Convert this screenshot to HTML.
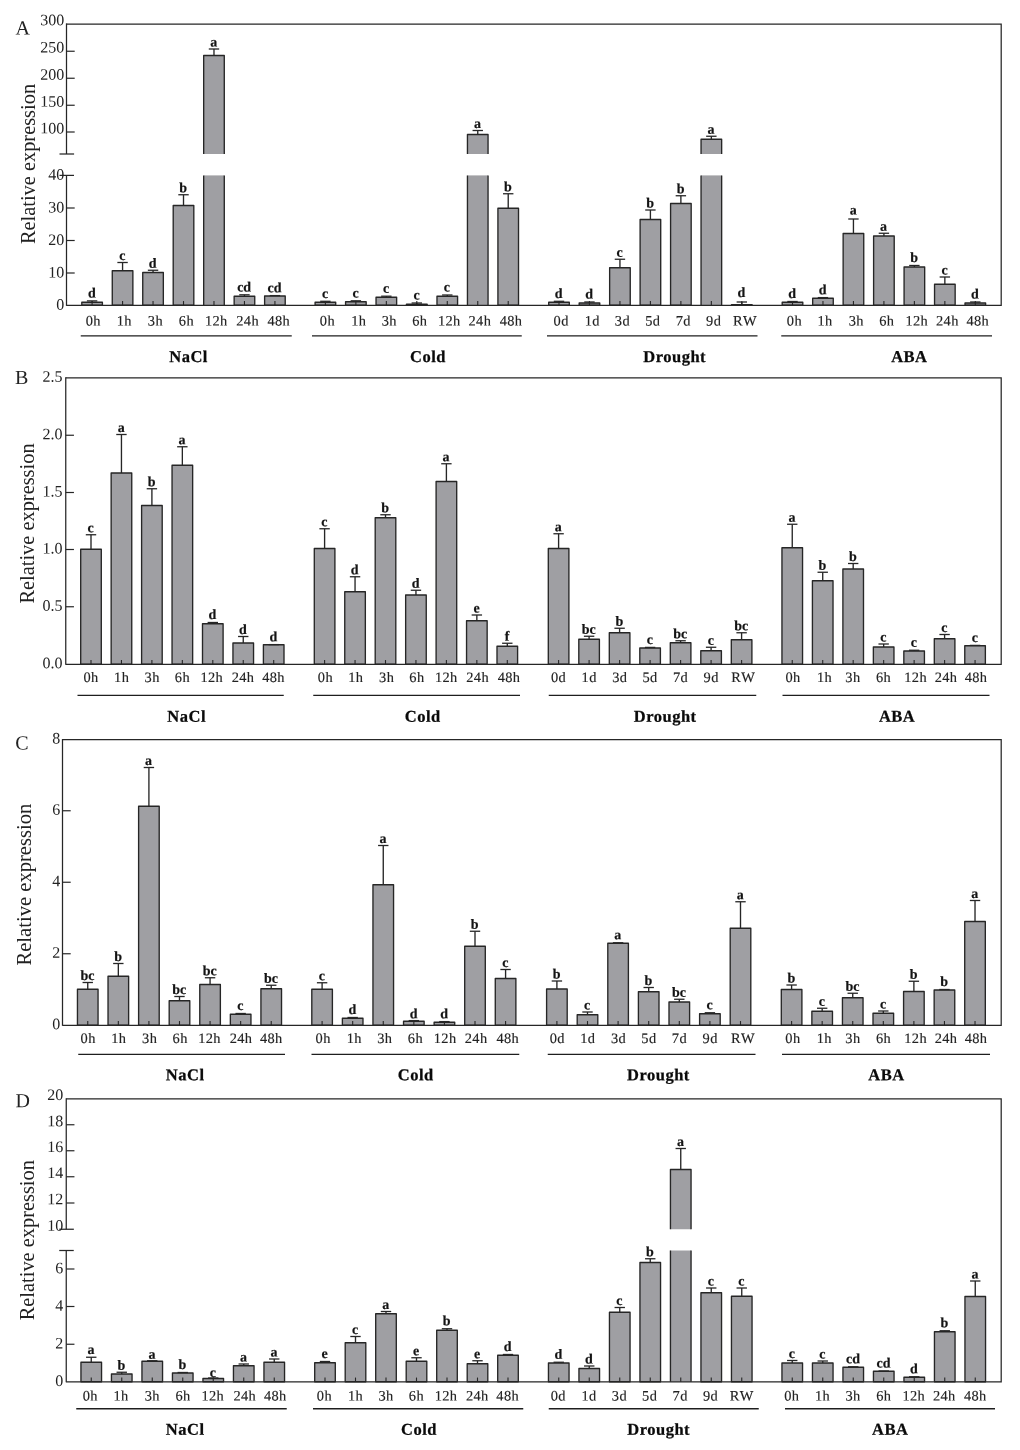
<!DOCTYPE html>
<html lang="en">
<head>
<meta charset="utf-8">
<title>Relative expression under NaCl, Cold, Drought and ABA treatments</title>
<style>
html,body{margin:0;padding:0;background:#fff;}
body{width:1020px;height:1450px;overflow:hidden;}
svg{display:block;will-change:transform;font-family:"Liberation Serif","Times New Roman",Times,serif;}
</style>
</head>
<body>
<svg width="1020" height="1450" viewBox="0 0 1020 1450">
<rect x="0" y="0" width="1020" height="1450" fill="#ffffff"/>
<g>
<rect x="81.8" y="302.25" width="20.6" height="3" fill="#9f9fa3" stroke="#262626" stroke-width="1.35" stroke-linejoin="round"/>
<line x1="92.1" y1="302.25" x2="92.1" y2="300.9" stroke="#262626" stroke-width="1.35"/>
<line x1="86.9" y1="300.9" x2="97.3" y2="300.9" stroke="#262626" stroke-width="1.3"/>
<line x1="92.1" y1="305.25" x2="92.1" y2="301.05" stroke="#262626" stroke-width="1.1"/>
<text x="91.8" y="297.5" font-size="14" text-anchor="middle" font-weight="bold" fill="#141414" stroke="#141414" stroke-width="0.2" transform="rotate(0.04 91.8 297.5)">d</text>
<text x="93.25" y="325.4" font-size="14.4" text-anchor="middle" font-weight="normal" fill="#222222" letter-spacing="0.35" style="font-kerning:none" stroke="#222222" stroke-width="0.15" transform="rotate(0.04 93.25 325.4)">0h</text>
<rect x="112.27" y="270.75" width="20.6" height="34.5" fill="#9f9fa3" stroke="#262626" stroke-width="1.35" stroke-linejoin="round"/>
<line x1="122.57" y1="270.75" x2="122.57" y2="262.5" stroke="#262626" stroke-width="1.35"/>
<line x1="117.37" y1="262.5" x2="127.77" y2="262.5" stroke="#262626" stroke-width="1.3"/>
<line x1="122.57" y1="305.25" x2="122.57" y2="301.05" stroke="#262626" stroke-width="1.1"/>
<text x="122.27" y="259.9" font-size="14" text-anchor="middle" font-weight="bold" fill="#141414" stroke="#141414" stroke-width="0.2" transform="rotate(0.04 122.27 259.9)">c</text>
<text x="124.35" y="325.4" font-size="14.4" text-anchor="middle" font-weight="normal" fill="#222222" letter-spacing="0.35" style="font-kerning:none" stroke="#222222" stroke-width="0.15" transform="rotate(0.04 124.35 325.4)">1h</text>
<rect x="142.74" y="272.5" width="20.6" height="32.75" fill="#9f9fa3" stroke="#262626" stroke-width="1.35" stroke-linejoin="round"/>
<line x1="153.04" y1="272.5" x2="153.04" y2="270.25" stroke="#262626" stroke-width="1.35"/>
<line x1="147.84" y1="270.25" x2="158.24" y2="270.25" stroke="#262626" stroke-width="1.3"/>
<line x1="153.04" y1="305.25" x2="153.04" y2="301.05" stroke="#262626" stroke-width="1.1"/>
<text x="152.74" y="267.65" font-size="14" text-anchor="middle" font-weight="bold" fill="#141414" stroke="#141414" stroke-width="0.2" transform="rotate(0.04 152.74 267.65)">d</text>
<text x="155.4" y="325.4" font-size="14.4" text-anchor="middle" font-weight="normal" fill="#222222" letter-spacing="0.35" style="font-kerning:none" stroke="#222222" stroke-width="0.15" transform="rotate(0.04 155.4 325.4)">3h</text>
<rect x="173.21" y="205.5" width="20.6" height="99.75" fill="#9f9fa3" stroke="#262626" stroke-width="1.35" stroke-linejoin="round"/>
<line x1="183.51" y1="205.5" x2="183.51" y2="194.75" stroke="#262626" stroke-width="1.35"/>
<line x1="178.31" y1="194.75" x2="188.71" y2="194.75" stroke="#262626" stroke-width="1.3"/>
<line x1="183.51" y1="305.25" x2="183.51" y2="301.05" stroke="#262626" stroke-width="1.1"/>
<text x="183.21" y="192.15" font-size="14" text-anchor="middle" font-weight="bold" fill="#141414" stroke="#141414" stroke-width="0.2" transform="rotate(0.04 183.21 192.15)">b</text>
<text x="186.4" y="325.4" font-size="14.4" text-anchor="middle" font-weight="normal" fill="#222222" letter-spacing="0.35" style="font-kerning:none" stroke="#222222" stroke-width="0.15" transform="rotate(0.04 186.4 325.4)">6h</text>
<rect x="203.68" y="55.5" width="20.6" height="98.5" fill="#9f9fa3"/>
<rect x="203.68" y="175.4" width="20.6" height="129.85" fill="#9f9fa3"/>
<path d="M203.68 154V55.5H224.28V154 M203.68 175.4V305.25 M224.28 175.4V305.25" fill="none" stroke="#262626" stroke-width="1.35" stroke-linejoin="round"/>
<line x1="213.98" y1="55.5" x2="213.98" y2="49" stroke="#262626" stroke-width="1.35"/>
<line x1="208.78" y1="49" x2="219.18" y2="49" stroke="#262626" stroke-width="1.3"/>
<line x1="213.98" y1="305.25" x2="213.98" y2="301.05" stroke="#262626" stroke-width="1.1"/>
<text x="213.68" y="46.4" font-size="14" text-anchor="middle" font-weight="bold" fill="#141414" stroke="#141414" stroke-width="0.2" transform="rotate(0.04 213.68 46.4)">a</text>
<text x="216.35" y="325.4" font-size="14.4" text-anchor="middle" font-weight="normal" fill="#222222" letter-spacing="0.35" style="font-kerning:none" stroke="#222222" stroke-width="0.15" transform="rotate(0.04 216.35 325.4)">12h</text>
<rect x="234.15" y="296.25" width="20.6" height="9" fill="#9f9fa3" stroke="#262626" stroke-width="1.35" stroke-linejoin="round"/>
<line x1="244.45" y1="296.25" x2="244.45" y2="294.8" stroke="#262626" stroke-width="1.35"/>
<line x1="239.25" y1="294.8" x2="249.65" y2="294.8" stroke="#262626" stroke-width="1.3"/>
<line x1="244.45" y1="305.25" x2="244.45" y2="301.05" stroke="#262626" stroke-width="1.1"/>
<text x="244.15" y="291.4" font-size="14" text-anchor="middle" font-weight="bold" fill="#141414" stroke="#141414" stroke-width="0.2" transform="rotate(0.04 244.15 291.4)">cd</text>
<text x="247.65" y="325.4" font-size="14.4" text-anchor="middle" font-weight="normal" fill="#222222" letter-spacing="0.35" style="font-kerning:none" stroke="#222222" stroke-width="0.15" transform="rotate(0.04 247.65 325.4)">24h</text>
<rect x="264.62" y="296" width="20.6" height="9.25" fill="#9f9fa3" stroke="#262626" stroke-width="1.35" stroke-linejoin="round"/>
<line x1="274.92" y1="296" x2="274.92" y2="295.6" stroke="#262626" stroke-width="1.35"/>
<line x1="269.72" y1="295.6" x2="280.12" y2="295.6" stroke="#262626" stroke-width="1.3"/>
<line x1="274.92" y1="305.25" x2="274.92" y2="301.05" stroke="#262626" stroke-width="1.1"/>
<text x="274.62" y="292.2" font-size="14" text-anchor="middle" font-weight="bold" fill="#141414" stroke="#141414" stroke-width="0.2" transform="rotate(0.04 274.62 292.2)">cd</text>
<text x="278.85" y="325.4" font-size="14.4" text-anchor="middle" font-weight="normal" fill="#222222" letter-spacing="0.35" style="font-kerning:none" stroke="#222222" stroke-width="0.15" transform="rotate(0.04 278.85 325.4)">48h</text>
<rect x="315.1" y="302.25" width="20.6" height="3" fill="#9f9fa3" stroke="#262626" stroke-width="1.35" stroke-linejoin="round"/>
<line x1="325.4" y1="302.25" x2="325.4" y2="301.3" stroke="#262626" stroke-width="1.35"/>
<line x1="320.2" y1="301.3" x2="330.6" y2="301.3" stroke="#262626" stroke-width="1.3"/>
<line x1="325.4" y1="305.25" x2="325.4" y2="301.05" stroke="#262626" stroke-width="1.1"/>
<text x="325.1" y="297.9" font-size="14" text-anchor="middle" font-weight="bold" fill="#141414" stroke="#141414" stroke-width="0.2" transform="rotate(0.04 325.1 297.9)">c</text>
<text x="327.4" y="325.4" font-size="14.4" text-anchor="middle" font-weight="normal" fill="#222222" letter-spacing="0.35" style="font-kerning:none" stroke="#222222" stroke-width="0.15" transform="rotate(0.04 327.4 325.4)">0h</text>
<rect x="345.57" y="301.75" width="20.6" height="3.5" fill="#9f9fa3" stroke="#262626" stroke-width="1.35" stroke-linejoin="round"/>
<line x1="355.87" y1="301.75" x2="355.87" y2="300.8" stroke="#262626" stroke-width="1.35"/>
<line x1="350.67" y1="300.8" x2="361.07" y2="300.8" stroke="#262626" stroke-width="1.3"/>
<line x1="355.87" y1="305.25" x2="355.87" y2="301.05" stroke="#262626" stroke-width="1.1"/>
<text x="355.57" y="297.4" font-size="14" text-anchor="middle" font-weight="bold" fill="#141414" stroke="#141414" stroke-width="0.2" transform="rotate(0.04 355.57 297.4)">c</text>
<text x="358.75" y="325.4" font-size="14.4" text-anchor="middle" font-weight="normal" fill="#222222" letter-spacing="0.35" style="font-kerning:none" stroke="#222222" stroke-width="0.15" transform="rotate(0.04 358.75 325.4)">1h</text>
<rect x="376.04" y="297.25" width="20.6" height="8" fill="#9f9fa3" stroke="#262626" stroke-width="1.35" stroke-linejoin="round"/>
<line x1="386.34" y1="297.25" x2="386.34" y2="296.2" stroke="#262626" stroke-width="1.35"/>
<line x1="381.14" y1="296.2" x2="391.54" y2="296.2" stroke="#262626" stroke-width="1.3"/>
<line x1="386.34" y1="305.25" x2="386.34" y2="301.05" stroke="#262626" stroke-width="1.1"/>
<text x="386.04" y="292.8" font-size="14" text-anchor="middle" font-weight="bold" fill="#141414" stroke="#141414" stroke-width="0.2" transform="rotate(0.04 386.04 292.8)">c</text>
<text x="389.25" y="325.4" font-size="14.4" text-anchor="middle" font-weight="normal" fill="#222222" letter-spacing="0.35" style="font-kerning:none" stroke="#222222" stroke-width="0.15" transform="rotate(0.04 389.25 325.4)">3h</text>
<rect x="406.51" y="304.25" width="20.6" height="1" fill="#9f9fa3" stroke="#262626" stroke-width="1.35" stroke-linejoin="round"/>
<line x1="416.81" y1="304.25" x2="416.81" y2="303" stroke="#262626" stroke-width="1.35"/>
<line x1="411.61" y1="303" x2="422.01" y2="303" stroke="#262626" stroke-width="1.3"/>
<line x1="416.81" y1="305.25" x2="416.81" y2="301.05" stroke="#262626" stroke-width="1.1"/>
<text x="416.51" y="299.6" font-size="14" text-anchor="middle" font-weight="bold" fill="#141414" stroke="#141414" stroke-width="0.2" transform="rotate(0.04 416.51 299.6)">c</text>
<text x="419.75" y="325.4" font-size="14.4" text-anchor="middle" font-weight="normal" fill="#222222" letter-spacing="0.35" style="font-kerning:none" stroke="#222222" stroke-width="0.15" transform="rotate(0.04 419.75 325.4)">6h</text>
<rect x="436.98" y="296.25" width="20.6" height="9" fill="#9f9fa3" stroke="#262626" stroke-width="1.35" stroke-linejoin="round"/>
<line x1="447.28" y1="296.25" x2="447.28" y2="295" stroke="#262626" stroke-width="1.35"/>
<line x1="442.08" y1="295" x2="452.48" y2="295" stroke="#262626" stroke-width="1.3"/>
<line x1="447.28" y1="305.25" x2="447.28" y2="301.05" stroke="#262626" stroke-width="1.1"/>
<text x="446.98" y="291.6" font-size="14" text-anchor="middle" font-weight="bold" fill="#141414" stroke="#141414" stroke-width="0.2" transform="rotate(0.04 446.98 291.6)">c</text>
<text x="449.25" y="325.4" font-size="14.4" text-anchor="middle" font-weight="normal" fill="#222222" letter-spacing="0.35" style="font-kerning:none" stroke="#222222" stroke-width="0.15" transform="rotate(0.04 449.25 325.4)">12h</text>
<rect x="467.45" y="134.5" width="20.6" height="19.5" fill="#9f9fa3"/>
<rect x="467.45" y="175.4" width="20.6" height="129.85" fill="#9f9fa3"/>
<path d="M467.45 154V134.5H488.05V154 M467.45 175.4V305.25 M488.05 175.4V305.25" fill="none" stroke="#262626" stroke-width="1.35" stroke-linejoin="round"/>
<line x1="477.75" y1="134.5" x2="477.75" y2="130.5" stroke="#262626" stroke-width="1.35"/>
<line x1="472.55" y1="130.5" x2="482.95" y2="130.5" stroke="#262626" stroke-width="1.3"/>
<line x1="477.75" y1="305.25" x2="477.75" y2="301.05" stroke="#262626" stroke-width="1.1"/>
<text x="477.45" y="127.9" font-size="14" text-anchor="middle" font-weight="bold" fill="#141414" stroke="#141414" stroke-width="0.2" transform="rotate(0.04 477.45 127.9)">a</text>
<text x="479.9" y="325.4" font-size="14.4" text-anchor="middle" font-weight="normal" fill="#222222" letter-spacing="0.35" style="font-kerning:none" stroke="#222222" stroke-width="0.15" transform="rotate(0.04 479.9 325.4)">24h</text>
<rect x="497.92" y="208.25" width="20.6" height="97" fill="#9f9fa3" stroke="#262626" stroke-width="1.35" stroke-linejoin="round"/>
<line x1="508.22" y1="208.25" x2="508.22" y2="193.75" stroke="#262626" stroke-width="1.35"/>
<line x1="503.02" y1="193.75" x2="513.42" y2="193.75" stroke="#262626" stroke-width="1.3"/>
<line x1="508.22" y1="305.25" x2="508.22" y2="301.05" stroke="#262626" stroke-width="1.1"/>
<text x="507.92" y="191.15" font-size="14" text-anchor="middle" font-weight="bold" fill="#141414" stroke="#141414" stroke-width="0.2" transform="rotate(0.04 507.92 191.15)">b</text>
<text x="510.95" y="325.4" font-size="14.4" text-anchor="middle" font-weight="normal" fill="#222222" letter-spacing="0.35" style="font-kerning:none" stroke="#222222" stroke-width="0.15" transform="rotate(0.04 510.95 325.4)">48h</text>
<rect x="548.7" y="302.25" width="20.6" height="3" fill="#9f9fa3" stroke="#262626" stroke-width="1.35" stroke-linejoin="round"/>
<line x1="559" y1="302.25" x2="559" y2="301.3" stroke="#262626" stroke-width="1.35"/>
<line x1="553.8" y1="301.3" x2="564.2" y2="301.3" stroke="#262626" stroke-width="1.3"/>
<line x1="559" y1="305.25" x2="559" y2="301.05" stroke="#262626" stroke-width="1.1"/>
<text x="558.7" y="297.9" font-size="14" text-anchor="middle" font-weight="bold" fill="#141414" stroke="#141414" stroke-width="0.2" transform="rotate(0.04 558.7 297.9)">d</text>
<text x="561.15" y="325.4" font-size="14.4" text-anchor="middle" font-weight="normal" fill="#222222" letter-spacing="0.35" style="font-kerning:none" stroke="#222222" stroke-width="0.15" transform="rotate(0.04 561.15 325.4)">0d</text>
<rect x="579.17" y="303" width="20.6" height="2.25" fill="#9f9fa3" stroke="#262626" stroke-width="1.35" stroke-linejoin="round"/>
<line x1="589.47" y1="303" x2="589.47" y2="302" stroke="#262626" stroke-width="1.35"/>
<line x1="584.27" y1="302" x2="594.67" y2="302" stroke="#262626" stroke-width="1.3"/>
<line x1="589.47" y1="305.25" x2="589.47" y2="301.05" stroke="#262626" stroke-width="1.1"/>
<text x="589.17" y="298.6" font-size="14" text-anchor="middle" font-weight="bold" fill="#141414" stroke="#141414" stroke-width="0.2" transform="rotate(0.04 589.17 298.6)">d</text>
<text x="592.25" y="325.4" font-size="14.4" text-anchor="middle" font-weight="normal" fill="#222222" letter-spacing="0.35" style="font-kerning:none" stroke="#222222" stroke-width="0.15" transform="rotate(0.04 592.25 325.4)">1d</text>
<rect x="609.64" y="267.75" width="20.6" height="37.5" fill="#9f9fa3" stroke="#262626" stroke-width="1.35" stroke-linejoin="round"/>
<line x1="619.94" y1="267.75" x2="619.94" y2="259.25" stroke="#262626" stroke-width="1.35"/>
<line x1="614.74" y1="259.25" x2="625.14" y2="259.25" stroke="#262626" stroke-width="1.3"/>
<line x1="619.94" y1="305.25" x2="619.94" y2="301.05" stroke="#262626" stroke-width="1.1"/>
<text x="619.64" y="256.65" font-size="14" text-anchor="middle" font-weight="bold" fill="#141414" stroke="#141414" stroke-width="0.2" transform="rotate(0.04 619.64 256.65)">c</text>
<text x="622.4" y="325.4" font-size="14.4" text-anchor="middle" font-weight="normal" fill="#222222" letter-spacing="0.35" style="font-kerning:none" stroke="#222222" stroke-width="0.15" transform="rotate(0.04 622.4 325.4)">3d</text>
<rect x="640.11" y="219.5" width="20.6" height="85.75" fill="#9f9fa3" stroke="#262626" stroke-width="1.35" stroke-linejoin="round"/>
<line x1="650.41" y1="219.5" x2="650.41" y2="210" stroke="#262626" stroke-width="1.35"/>
<line x1="645.21" y1="210" x2="655.61" y2="210" stroke="#262626" stroke-width="1.3"/>
<line x1="650.41" y1="305.25" x2="650.41" y2="301.05" stroke="#262626" stroke-width="1.1"/>
<text x="650.11" y="207.4" font-size="14" text-anchor="middle" font-weight="bold" fill="#141414" stroke="#141414" stroke-width="0.2" transform="rotate(0.04 650.11 207.4)">b</text>
<text x="652.75" y="325.4" font-size="14.4" text-anchor="middle" font-weight="normal" fill="#222222" letter-spacing="0.35" style="font-kerning:none" stroke="#222222" stroke-width="0.15" transform="rotate(0.04 652.75 325.4)">5d</text>
<rect x="670.58" y="203.5" width="20.6" height="101.75" fill="#9f9fa3" stroke="#262626" stroke-width="1.35" stroke-linejoin="round"/>
<line x1="680.88" y1="203.5" x2="680.88" y2="195.75" stroke="#262626" stroke-width="1.35"/>
<line x1="675.68" y1="195.75" x2="686.08" y2="195.75" stroke="#262626" stroke-width="1.3"/>
<line x1="680.88" y1="305.25" x2="680.88" y2="301.05" stroke="#262626" stroke-width="1.1"/>
<text x="680.58" y="193.15" font-size="14" text-anchor="middle" font-weight="bold" fill="#141414" stroke="#141414" stroke-width="0.2" transform="rotate(0.04 680.58 193.15)">b</text>
<text x="683.25" y="325.4" font-size="14.4" text-anchor="middle" font-weight="normal" fill="#222222" letter-spacing="0.35" style="font-kerning:none" stroke="#222222" stroke-width="0.15" transform="rotate(0.04 683.25 325.4)">7d</text>
<rect x="701.05" y="139.25" width="20.6" height="14.75" fill="#9f9fa3"/>
<rect x="701.05" y="175.4" width="20.6" height="129.85" fill="#9f9fa3"/>
<path d="M701.05 154V139.25H721.65V154 M701.05 175.4V305.25 M721.65 175.4V305.25" fill="none" stroke="#262626" stroke-width="1.35" stroke-linejoin="round"/>
<line x1="711.35" y1="139.25" x2="711.35" y2="136.25" stroke="#262626" stroke-width="1.35"/>
<line x1="706.15" y1="136.25" x2="716.55" y2="136.25" stroke="#262626" stroke-width="1.3"/>
<line x1="711.35" y1="305.25" x2="711.35" y2="301.05" stroke="#262626" stroke-width="1.1"/>
<text x="711.05" y="133.65" font-size="14" text-anchor="middle" font-weight="bold" fill="#141414" stroke="#141414" stroke-width="0.2" transform="rotate(0.04 711.05 133.65)">a</text>
<text x="713.65" y="325.4" font-size="14.4" text-anchor="middle" font-weight="normal" fill="#222222" letter-spacing="0.35" style="font-kerning:none" stroke="#222222" stroke-width="0.15" transform="rotate(0.04 713.65 325.4)">9d</text>
<rect x="731.52" y="304.75" width="20.6" height="0.5" fill="#9f9fa3" stroke="#262626" stroke-width="1.35" stroke-linejoin="round"/>
<line x1="741.82" y1="304.75" x2="741.82" y2="302" stroke="#262626" stroke-width="1.35"/>
<line x1="736.62" y1="302" x2="747.02" y2="302" stroke="#262626" stroke-width="1.3"/>
<line x1="741.82" y1="305.25" x2="741.82" y2="301.05" stroke="#262626" stroke-width="1.1"/>
<text x="741.52" y="297" font-size="14" text-anchor="middle" font-weight="bold" fill="#141414" stroke="#141414" stroke-width="0.2" transform="rotate(0.04 741.52 297)">d</text>
<text x="744.9" y="325.4" font-size="14.4" text-anchor="middle" font-weight="normal" fill="#222222" letter-spacing="0.35" style="font-kerning:none" stroke="#222222" stroke-width="0.15" transform="rotate(0.04 744.9 325.4)">RW</text>
<rect x="782.2" y="302.25" width="20.6" height="3" fill="#9f9fa3" stroke="#262626" stroke-width="1.35" stroke-linejoin="round"/>
<line x1="792.5" y1="302.25" x2="792.5" y2="301.5" stroke="#262626" stroke-width="1.35"/>
<line x1="787.3" y1="301.5" x2="797.7" y2="301.5" stroke="#262626" stroke-width="1.3"/>
<line x1="792.5" y1="305.25" x2="792.5" y2="301.05" stroke="#262626" stroke-width="1.1"/>
<text x="792.2" y="298.1" font-size="14" text-anchor="middle" font-weight="bold" fill="#141414" stroke="#141414" stroke-width="0.2" transform="rotate(0.04 792.2 298.1)">d</text>
<text x="794.4" y="325.4" font-size="14.4" text-anchor="middle" font-weight="normal" fill="#222222" letter-spacing="0.35" style="font-kerning:none" stroke="#222222" stroke-width="0.15" transform="rotate(0.04 794.4 325.4)">0h</text>
<rect x="812.67" y="298.25" width="20.6" height="7" fill="#9f9fa3" stroke="#262626" stroke-width="1.35" stroke-linejoin="round"/>
<line x1="822.97" y1="298.25" x2="822.97" y2="297.6" stroke="#262626" stroke-width="1.35"/>
<line x1="817.77" y1="297.6" x2="828.17" y2="297.6" stroke="#262626" stroke-width="1.3"/>
<line x1="822.97" y1="305.25" x2="822.97" y2="301.05" stroke="#262626" stroke-width="1.1"/>
<text x="822.67" y="294.2" font-size="14" text-anchor="middle" font-weight="bold" fill="#141414" stroke="#141414" stroke-width="0.2" transform="rotate(0.04 822.67 294.2)">d</text>
<text x="825" y="325.4" font-size="14.4" text-anchor="middle" font-weight="normal" fill="#222222" letter-spacing="0.35" style="font-kerning:none" stroke="#222222" stroke-width="0.15" transform="rotate(0.04 825 325.4)">1h</text>
<rect x="843.14" y="233.5" width="20.6" height="71.75" fill="#9f9fa3" stroke="#262626" stroke-width="1.35" stroke-linejoin="round"/>
<line x1="853.44" y1="233.5" x2="853.44" y2="219" stroke="#262626" stroke-width="1.35"/>
<line x1="848.24" y1="219" x2="858.64" y2="219" stroke="#262626" stroke-width="1.3"/>
<line x1="853.44" y1="305.25" x2="853.44" y2="301.05" stroke="#262626" stroke-width="1.1"/>
<text x="853.14" y="214.5" font-size="14" text-anchor="middle" font-weight="bold" fill="#141414" stroke="#141414" stroke-width="0.2" transform="rotate(0.04 853.14 214.5)">a</text>
<text x="856.25" y="325.4" font-size="14.4" text-anchor="middle" font-weight="normal" fill="#222222" letter-spacing="0.35" style="font-kerning:none" stroke="#222222" stroke-width="0.15" transform="rotate(0.04 856.25 325.4)">3h</text>
<rect x="873.61" y="236" width="20.6" height="69.25" fill="#9f9fa3" stroke="#262626" stroke-width="1.35" stroke-linejoin="round"/>
<line x1="883.91" y1="236" x2="883.91" y2="233.25" stroke="#262626" stroke-width="1.35"/>
<line x1="878.71" y1="233.25" x2="889.11" y2="233.25" stroke="#262626" stroke-width="1.3"/>
<line x1="883.91" y1="305.25" x2="883.91" y2="301.05" stroke="#262626" stroke-width="1.1"/>
<text x="883.61" y="230.65" font-size="14" text-anchor="middle" font-weight="bold" fill="#141414" stroke="#141414" stroke-width="0.2" transform="rotate(0.04 883.61 230.65)">a</text>
<text x="886.75" y="325.4" font-size="14.4" text-anchor="middle" font-weight="normal" fill="#222222" letter-spacing="0.35" style="font-kerning:none" stroke="#222222" stroke-width="0.15" transform="rotate(0.04 886.75 325.4)">6h</text>
<rect x="904.08" y="267" width="20.6" height="38.25" fill="#9f9fa3" stroke="#262626" stroke-width="1.35" stroke-linejoin="round"/>
<line x1="914.38" y1="267" x2="914.38" y2="265.5" stroke="#262626" stroke-width="1.35"/>
<line x1="909.18" y1="265.5" x2="919.58" y2="265.5" stroke="#262626" stroke-width="1.3"/>
<line x1="914.38" y1="305.25" x2="914.38" y2="301.05" stroke="#262626" stroke-width="1.1"/>
<text x="914.08" y="262.1" font-size="14" text-anchor="middle" font-weight="bold" fill="#141414" stroke="#141414" stroke-width="0.2" transform="rotate(0.04 914.08 262.1)">b</text>
<text x="916.85" y="325.4" font-size="14.4" text-anchor="middle" font-weight="normal" fill="#222222" letter-spacing="0.35" style="font-kerning:none" stroke="#222222" stroke-width="0.15" transform="rotate(0.04 916.85 325.4)">12h</text>
<rect x="934.55" y="284.25" width="20.6" height="21" fill="#9f9fa3" stroke="#262626" stroke-width="1.35" stroke-linejoin="round"/>
<line x1="944.85" y1="284.25" x2="944.85" y2="277" stroke="#262626" stroke-width="1.35"/>
<line x1="939.65" y1="277" x2="950.05" y2="277" stroke="#262626" stroke-width="1.3"/>
<line x1="944.85" y1="305.25" x2="944.85" y2="301.05" stroke="#262626" stroke-width="1.1"/>
<text x="944.55" y="274.4" font-size="14" text-anchor="middle" font-weight="bold" fill="#141414" stroke="#141414" stroke-width="0.2" transform="rotate(0.04 944.55 274.4)">c</text>
<text x="947.4" y="325.4" font-size="14.4" text-anchor="middle" font-weight="normal" fill="#222222" letter-spacing="0.35" style="font-kerning:none" stroke="#222222" stroke-width="0.15" transform="rotate(0.04 947.4 325.4)">24h</text>
<rect x="965.02" y="303" width="20.6" height="2.25" fill="#9f9fa3" stroke="#262626" stroke-width="1.35" stroke-linejoin="round"/>
<line x1="975.32" y1="303" x2="975.32" y2="302" stroke="#262626" stroke-width="1.35"/>
<line x1="970.12" y1="302" x2="980.52" y2="302" stroke="#262626" stroke-width="1.3"/>
<line x1="975.32" y1="305.25" x2="975.32" y2="301.05" stroke="#262626" stroke-width="1.1"/>
<text x="975.02" y="298.6" font-size="14" text-anchor="middle" font-weight="bold" fill="#141414" stroke="#141414" stroke-width="0.2" transform="rotate(0.04 975.02 298.6)">d</text>
<text x="977.7" y="325.4" font-size="14.4" text-anchor="middle" font-weight="normal" fill="#222222" letter-spacing="0.35" style="font-kerning:none" stroke="#222222" stroke-width="0.15" transform="rotate(0.04 977.7 325.4)">48h</text>
<path d="M66.5 24H1001.2V305.25H66.5" fill="none" stroke="#262626" stroke-width="1.25"/>
<line x1="66.5" y1="23.4" x2="66.5" y2="154" stroke="#262626" stroke-width="1.25"/>
<line x1="66.5" y1="175.4" x2="66.5" y2="305.85" stroke="#262626" stroke-width="1.25"/>
<line x1="59.5" y1="154" x2="74.1" y2="154" stroke="#262626" stroke-width="1.25"/>
<line x1="59.5" y1="175.4" x2="74" y2="175.4" stroke="#262626" stroke-width="1.25"/>
<text x="64.2" y="25.35" font-size="16" text-anchor="end" font-weight="normal" fill="#222222" transform="rotate(0.04 64.2 25.35)">300</text>
<text x="64.2" y="52.5" font-size="16" text-anchor="end" font-weight="normal" fill="#222222" transform="rotate(0.04 64.2 52.5)">250</text>
<line x1="66.5" y1="51.25" x2="74.7" y2="51.25" stroke="#262626" stroke-width="1.2"/>
<text x="64.2" y="79.85" font-size="16" text-anchor="end" font-weight="normal" fill="#222222" transform="rotate(0.04 64.2 79.85)">200</text>
<line x1="66.5" y1="78.25" x2="74.7" y2="78.25" stroke="#262626" stroke-width="1.2"/>
<text x="64.2" y="106.65" font-size="16" text-anchor="end" font-weight="normal" fill="#222222" transform="rotate(0.04 64.2 106.65)">150</text>
<line x1="66.5" y1="105.25" x2="74.7" y2="105.25" stroke="#262626" stroke-width="1.2"/>
<text x="64.2" y="133.4" font-size="16" text-anchor="end" font-weight="normal" fill="#222222" transform="rotate(0.04 64.2 133.4)">100</text>
<line x1="66.5" y1="132" x2="74.7" y2="132" stroke="#262626" stroke-width="1.2"/>
<text x="64.2" y="179.8" font-size="16" text-anchor="end" font-weight="normal" fill="#222222" transform="rotate(0.04 64.2 179.8)">40</text>
<text x="64.2" y="212.5" font-size="16" text-anchor="end" font-weight="normal" fill="#222222" transform="rotate(0.04 64.2 212.5)">30</text>
<line x1="66.5" y1="208" x2="74.7" y2="208" stroke="#262626" stroke-width="1.2"/>
<text x="64.2" y="245" font-size="16" text-anchor="end" font-weight="normal" fill="#222222" transform="rotate(0.04 64.2 245)">20</text>
<line x1="66.5" y1="240.5" x2="74.7" y2="240.5" stroke="#262626" stroke-width="1.2"/>
<text x="64.2" y="277.5" font-size="16" text-anchor="end" font-weight="normal" fill="#222222" transform="rotate(0.04 64.2 277.5)">10</text>
<line x1="66.5" y1="273" x2="74.7" y2="273" stroke="#262626" stroke-width="1.2"/>
<text x="64.2" y="309.75" font-size="16" text-anchor="end" font-weight="normal" fill="#222222" transform="rotate(0.04 64.2 309.75)">0</text>
<text x="15.4" y="34.6" font-size="20" text-anchor="start" font-weight="normal" fill="#222222" transform="rotate(0.04 15.4 34.6)">A</text>
<text x="0" y="0" font-size="21.7" text-anchor="middle" font-weight="normal" fill="#222222" transform="translate(34.9 164) rotate(-90) scale(0.94 1)">Relative expression</text>
<line x1="80.75" y1="335.9" x2="291.75" y2="335.9" stroke="#1e1e1e" stroke-width="1.4"/>
<text x="188.6" y="362" font-size="16.5" text-anchor="middle" font-weight="bold" fill="#0a0a0a" letter-spacing="0.5" stroke="#0a0a0a" stroke-width="0.25" transform="rotate(0.04 188.6 362)">NaCl</text>
<line x1="312" y1="335.9" x2="521.75" y2="335.9" stroke="#1e1e1e" stroke-width="1.4"/>
<text x="427.95" y="362" font-size="16.5" text-anchor="middle" font-weight="bold" fill="#0a0a0a" letter-spacing="0.5" stroke="#0a0a0a" stroke-width="0.25" transform="rotate(0.04 427.95 362)">Cold</text>
<line x1="547" y1="335.9" x2="757.5" y2="335.9" stroke="#1e1e1e" stroke-width="1.4"/>
<text x="674.7" y="362" font-size="16.5" text-anchor="middle" font-weight="bold" fill="#0a0a0a" letter-spacing="0.5" stroke="#0a0a0a" stroke-width="0.25" transform="rotate(0.04 674.7 362)">Drought</text>
<line x1="781.25" y1="335.9" x2="992" y2="335.9" stroke="#1e1e1e" stroke-width="1.4"/>
<text x="909.3" y="362" font-size="16.5" text-anchor="middle" font-weight="bold" fill="#0a0a0a" letter-spacing="0.5" stroke="#0a0a0a" stroke-width="0.25" transform="rotate(0.04 909.3 362)">ABA</text>
</g>
<g>
<rect x="80.7" y="549.25" width="20.6" height="115" fill="#9f9fa3" stroke="#262626" stroke-width="1.35" stroke-linejoin="round"/>
<line x1="91" y1="549.25" x2="91" y2="534.75" stroke="#262626" stroke-width="1.35"/>
<line x1="85.8" y1="534.75" x2="96.2" y2="534.75" stroke="#262626" stroke-width="1.3"/>
<line x1="91" y1="664.25" x2="91" y2="660.05" stroke="#262626" stroke-width="1.1"/>
<text x="90.7" y="532.15" font-size="14" text-anchor="middle" font-weight="bold" fill="#141414" stroke="#141414" stroke-width="0.2" transform="rotate(0.04 90.7 532.15)">c</text>
<text x="91.05" y="682.1" font-size="14.4" text-anchor="middle" font-weight="normal" fill="#222222" letter-spacing="0.35" style="font-kerning:none" stroke="#222222" stroke-width="0.15" transform="rotate(0.04 91.05 682.1)">0h</text>
<rect x="111.15" y="473" width="20.6" height="191.25" fill="#9f9fa3" stroke="#262626" stroke-width="1.35" stroke-linejoin="round"/>
<line x1="121.45" y1="473" x2="121.45" y2="434.5" stroke="#262626" stroke-width="1.35"/>
<line x1="116.25" y1="434.5" x2="126.65" y2="434.5" stroke="#262626" stroke-width="1.3"/>
<line x1="121.45" y1="664.25" x2="121.45" y2="660.05" stroke="#262626" stroke-width="1.1"/>
<text x="121.15" y="431.9" font-size="14" text-anchor="middle" font-weight="bold" fill="#141414" stroke="#141414" stroke-width="0.2" transform="rotate(0.04 121.15 431.9)">a</text>
<text x="121.65" y="682.1" font-size="14.4" text-anchor="middle" font-weight="normal" fill="#222222" letter-spacing="0.35" style="font-kerning:none" stroke="#222222" stroke-width="0.15" transform="rotate(0.04 121.65 682.1)">1h</text>
<rect x="141.6" y="505.5" width="20.6" height="158.75" fill="#9f9fa3" stroke="#262626" stroke-width="1.35" stroke-linejoin="round"/>
<line x1="151.9" y1="505.5" x2="151.9" y2="488.75" stroke="#262626" stroke-width="1.35"/>
<line x1="146.7" y1="488.75" x2="157.1" y2="488.75" stroke="#262626" stroke-width="1.3"/>
<line x1="151.9" y1="664.25" x2="151.9" y2="660.05" stroke="#262626" stroke-width="1.1"/>
<text x="151.6" y="486.15" font-size="14" text-anchor="middle" font-weight="bold" fill="#141414" stroke="#141414" stroke-width="0.2" transform="rotate(0.04 151.6 486.15)">b</text>
<text x="152.15" y="682.1" font-size="14.4" text-anchor="middle" font-weight="normal" fill="#222222" letter-spacing="0.35" style="font-kerning:none" stroke="#222222" stroke-width="0.15" transform="rotate(0.04 152.15 682.1)">3h</text>
<rect x="172.05" y="465.25" width="20.6" height="199" fill="#9f9fa3" stroke="#262626" stroke-width="1.35" stroke-linejoin="round"/>
<line x1="182.35" y1="465.25" x2="182.35" y2="446.75" stroke="#262626" stroke-width="1.35"/>
<line x1="177.15" y1="446.75" x2="187.55" y2="446.75" stroke="#262626" stroke-width="1.3"/>
<line x1="182.35" y1="664.25" x2="182.35" y2="660.05" stroke="#262626" stroke-width="1.1"/>
<text x="182.05" y="444.15" font-size="14" text-anchor="middle" font-weight="bold" fill="#141414" stroke="#141414" stroke-width="0.2" transform="rotate(0.04 182.05 444.15)">a</text>
<text x="182.4" y="682.1" font-size="14.4" text-anchor="middle" font-weight="normal" fill="#222222" letter-spacing="0.35" style="font-kerning:none" stroke="#222222" stroke-width="0.15" transform="rotate(0.04 182.4 682.1)">6h</text>
<rect x="202.5" y="623.75" width="20.6" height="40.5" fill="#9f9fa3" stroke="#262626" stroke-width="1.35" stroke-linejoin="round"/>
<line x1="212.8" y1="623.75" x2="212.8" y2="622.5" stroke="#262626" stroke-width="1.35"/>
<line x1="207.6" y1="622.5" x2="218" y2="622.5" stroke="#262626" stroke-width="1.3"/>
<line x1="212.8" y1="664.25" x2="212.8" y2="660.05" stroke="#262626" stroke-width="1.1"/>
<text x="212.5" y="619.1" font-size="14" text-anchor="middle" font-weight="bold" fill="#141414" stroke="#141414" stroke-width="0.2" transform="rotate(0.04 212.5 619.1)">d</text>
<text x="211.85" y="682.1" font-size="14.4" text-anchor="middle" font-weight="normal" fill="#222222" letter-spacing="0.35" style="font-kerning:none" stroke="#222222" stroke-width="0.15" transform="rotate(0.04 211.85 682.1)">12h</text>
<rect x="232.95" y="643" width="20.6" height="21.25" fill="#9f9fa3" stroke="#262626" stroke-width="1.35" stroke-linejoin="round"/>
<line x1="243.25" y1="643" x2="243.25" y2="636.5" stroke="#262626" stroke-width="1.35"/>
<line x1="238.05" y1="636.5" x2="248.45" y2="636.5" stroke="#262626" stroke-width="1.3"/>
<line x1="243.25" y1="664.25" x2="243.25" y2="660.05" stroke="#262626" stroke-width="1.1"/>
<text x="242.95" y="633.9" font-size="14" text-anchor="middle" font-weight="bold" fill="#141414" stroke="#141414" stroke-width="0.2" transform="rotate(0.04 242.95 633.9)">d</text>
<text x="243.05" y="682.1" font-size="14.4" text-anchor="middle" font-weight="normal" fill="#222222" letter-spacing="0.35" style="font-kerning:none" stroke="#222222" stroke-width="0.15" transform="rotate(0.04 243.05 682.1)">24h</text>
<rect x="263.4" y="644.75" width="20.6" height="19.5" fill="#9f9fa3" stroke="#262626" stroke-width="1.35" stroke-linejoin="round"/>
<line x1="268.5" y1="644.6" x2="278.9" y2="644.6" stroke="#262626" stroke-width="1.3"/>
<line x1="273.7" y1="664.25" x2="273.7" y2="660.05" stroke="#262626" stroke-width="1.1"/>
<text x="273.4" y="641.2" font-size="14" text-anchor="middle" font-weight="bold" fill="#141414" stroke="#141414" stroke-width="0.2" transform="rotate(0.04 273.4 641.2)">d</text>
<text x="273.45" y="682.1" font-size="14.4" text-anchor="middle" font-weight="normal" fill="#222222" letter-spacing="0.35" style="font-kerning:none" stroke="#222222" stroke-width="0.15" transform="rotate(0.04 273.45 682.1)">48h</text>
<rect x="314.3" y="548.5" width="20.6" height="115.75" fill="#9f9fa3" stroke="#262626" stroke-width="1.35" stroke-linejoin="round"/>
<line x1="324.6" y1="548.5" x2="324.6" y2="528.75" stroke="#262626" stroke-width="1.35"/>
<line x1="319.4" y1="528.75" x2="329.8" y2="528.75" stroke="#262626" stroke-width="1.3"/>
<line x1="324.6" y1="664.25" x2="324.6" y2="660.05" stroke="#262626" stroke-width="1.1"/>
<text x="324.3" y="526.15" font-size="14" text-anchor="middle" font-weight="bold" fill="#141414" stroke="#141414" stroke-width="0.2" transform="rotate(0.04 324.3 526.15)">c</text>
<text x="325.4" y="682.1" font-size="14.4" text-anchor="middle" font-weight="normal" fill="#222222" letter-spacing="0.35" style="font-kerning:none" stroke="#222222" stroke-width="0.15" transform="rotate(0.04 325.4 682.1)">0h</text>
<rect x="344.75" y="591.75" width="20.6" height="72.5" fill="#9f9fa3" stroke="#262626" stroke-width="1.35" stroke-linejoin="round"/>
<line x1="355.05" y1="591.75" x2="355.05" y2="576.75" stroke="#262626" stroke-width="1.35"/>
<line x1="349.85" y1="576.75" x2="360.25" y2="576.75" stroke="#262626" stroke-width="1.3"/>
<line x1="355.05" y1="664.25" x2="355.05" y2="660.05" stroke="#262626" stroke-width="1.1"/>
<text x="354.75" y="574.15" font-size="14" text-anchor="middle" font-weight="bold" fill="#141414" stroke="#141414" stroke-width="0.2" transform="rotate(0.04 354.75 574.15)">d</text>
<text x="355.85" y="682.1" font-size="14.4" text-anchor="middle" font-weight="normal" fill="#222222" letter-spacing="0.35" style="font-kerning:none" stroke="#222222" stroke-width="0.15" transform="rotate(0.04 355.85 682.1)">1h</text>
<rect x="375.2" y="517.75" width="20.6" height="146.5" fill="#9f9fa3" stroke="#262626" stroke-width="1.35" stroke-linejoin="round"/>
<line x1="385.5" y1="517.75" x2="385.5" y2="514.75" stroke="#262626" stroke-width="1.35"/>
<line x1="380.3" y1="514.75" x2="390.7" y2="514.75" stroke="#262626" stroke-width="1.3"/>
<line x1="385.5" y1="664.25" x2="385.5" y2="660.05" stroke="#262626" stroke-width="1.1"/>
<text x="385.2" y="512.15" font-size="14" text-anchor="middle" font-weight="bold" fill="#141414" stroke="#141414" stroke-width="0.2" transform="rotate(0.04 385.2 512.15)">b</text>
<text x="386.65" y="682.1" font-size="14.4" text-anchor="middle" font-weight="normal" fill="#222222" letter-spacing="0.35" style="font-kerning:none" stroke="#222222" stroke-width="0.15" transform="rotate(0.04 386.65 682.1)">3h</text>
<rect x="405.65" y="595" width="20.6" height="69.25" fill="#9f9fa3" stroke="#262626" stroke-width="1.35" stroke-linejoin="round"/>
<line x1="415.95" y1="595" x2="415.95" y2="590.25" stroke="#262626" stroke-width="1.35"/>
<line x1="410.75" y1="590.25" x2="421.15" y2="590.25" stroke="#262626" stroke-width="1.3"/>
<line x1="415.95" y1="664.25" x2="415.95" y2="660.05" stroke="#262626" stroke-width="1.1"/>
<text x="415.65" y="587.65" font-size="14" text-anchor="middle" font-weight="bold" fill="#141414" stroke="#141414" stroke-width="0.2" transform="rotate(0.04 415.65 587.65)">d</text>
<text x="416.9" y="682.1" font-size="14.4" text-anchor="middle" font-weight="normal" fill="#222222" letter-spacing="0.35" style="font-kerning:none" stroke="#222222" stroke-width="0.15" transform="rotate(0.04 416.9 682.1)">6h</text>
<rect x="436.1" y="481.5" width="20.6" height="182.75" fill="#9f9fa3" stroke="#262626" stroke-width="1.35" stroke-linejoin="round"/>
<line x1="446.4" y1="481.5" x2="446.4" y2="463.75" stroke="#262626" stroke-width="1.35"/>
<line x1="441.2" y1="463.75" x2="451.6" y2="463.75" stroke="#262626" stroke-width="1.3"/>
<line x1="446.4" y1="664.25" x2="446.4" y2="660.05" stroke="#262626" stroke-width="1.1"/>
<text x="446.1" y="461.15" font-size="14" text-anchor="middle" font-weight="bold" fill="#141414" stroke="#141414" stroke-width="0.2" transform="rotate(0.04 446.1 461.15)">a</text>
<text x="446.35" y="682.1" font-size="14.4" text-anchor="middle" font-weight="normal" fill="#222222" letter-spacing="0.35" style="font-kerning:none" stroke="#222222" stroke-width="0.15" transform="rotate(0.04 446.35 682.1)">12h</text>
<rect x="466.55" y="620.75" width="20.6" height="43.5" fill="#9f9fa3" stroke="#262626" stroke-width="1.35" stroke-linejoin="round"/>
<line x1="476.85" y1="620.75" x2="476.85" y2="615" stroke="#262626" stroke-width="1.35"/>
<line x1="471.65" y1="615" x2="482.05" y2="615" stroke="#262626" stroke-width="1.3"/>
<line x1="476.85" y1="664.25" x2="476.85" y2="660.05" stroke="#262626" stroke-width="1.1"/>
<text x="476.55" y="612.4" font-size="14" text-anchor="middle" font-weight="bold" fill="#141414" stroke="#141414" stroke-width="0.2" transform="rotate(0.04 476.55 612.4)">e</text>
<text x="477.65" y="682.1" font-size="14.4" text-anchor="middle" font-weight="normal" fill="#222222" letter-spacing="0.35" style="font-kerning:none" stroke="#222222" stroke-width="0.15" transform="rotate(0.04 477.65 682.1)">24h</text>
<rect x="497" y="646.25" width="20.6" height="18" fill="#9f9fa3" stroke="#262626" stroke-width="1.35" stroke-linejoin="round"/>
<line x1="507.3" y1="646.25" x2="507.3" y2="643.25" stroke="#262626" stroke-width="1.35"/>
<line x1="502.1" y1="643.25" x2="512.5" y2="643.25" stroke="#262626" stroke-width="1.3"/>
<line x1="507.3" y1="664.25" x2="507.3" y2="660.05" stroke="#262626" stroke-width="1.1"/>
<text x="507" y="640.65" font-size="14" text-anchor="middle" font-weight="bold" fill="#141414" stroke="#141414" stroke-width="0.2" transform="rotate(0.04 507 640.65)">f</text>
<text x="508.95" y="682.1" font-size="14.4" text-anchor="middle" font-weight="normal" fill="#222222" letter-spacing="0.35" style="font-kerning:none" stroke="#222222" stroke-width="0.15" transform="rotate(0.04 508.95 682.1)">48h</text>
<rect x="548.3" y="548.5" width="20.6" height="115.75" fill="#9f9fa3" stroke="#262626" stroke-width="1.35" stroke-linejoin="round"/>
<line x1="558.6" y1="548.5" x2="558.6" y2="533.75" stroke="#262626" stroke-width="1.35"/>
<line x1="553.4" y1="533.75" x2="563.8" y2="533.75" stroke="#262626" stroke-width="1.3"/>
<line x1="558.6" y1="664.25" x2="558.6" y2="660.05" stroke="#262626" stroke-width="1.1"/>
<text x="558.3" y="531.15" font-size="14" text-anchor="middle" font-weight="bold" fill="#141414" stroke="#141414" stroke-width="0.2" transform="rotate(0.04 558.3 531.15)">a</text>
<text x="558.55" y="682.1" font-size="14.4" text-anchor="middle" font-weight="normal" fill="#222222" letter-spacing="0.35" style="font-kerning:none" stroke="#222222" stroke-width="0.15" transform="rotate(0.04 558.55 682.1)">0d</text>
<rect x="578.8" y="639.25" width="20.6" height="25" fill="#9f9fa3" stroke="#262626" stroke-width="1.35" stroke-linejoin="round"/>
<line x1="589.1" y1="639.25" x2="589.1" y2="636.25" stroke="#262626" stroke-width="1.35"/>
<line x1="583.9" y1="636.25" x2="594.3" y2="636.25" stroke="#262626" stroke-width="1.3"/>
<line x1="589.1" y1="664.25" x2="589.1" y2="660.05" stroke="#262626" stroke-width="1.1"/>
<text x="588.8" y="633.65" font-size="14" text-anchor="middle" font-weight="bold" fill="#141414" stroke="#141414" stroke-width="0.2" transform="rotate(0.04 588.8 633.65)">bc</text>
<text x="589.15" y="682.1" font-size="14.4" text-anchor="middle" font-weight="normal" fill="#222222" letter-spacing="0.35" style="font-kerning:none" stroke="#222222" stroke-width="0.15" transform="rotate(0.04 589.15 682.1)">1d</text>
<rect x="609.3" y="632.75" width="20.6" height="31.5" fill="#9f9fa3" stroke="#262626" stroke-width="1.35" stroke-linejoin="round"/>
<line x1="619.6" y1="632.75" x2="619.6" y2="628.25" stroke="#262626" stroke-width="1.35"/>
<line x1="614.4" y1="628.25" x2="624.8" y2="628.25" stroke="#262626" stroke-width="1.3"/>
<line x1="619.6" y1="664.25" x2="619.6" y2="660.05" stroke="#262626" stroke-width="1.1"/>
<text x="619.3" y="625.65" font-size="14" text-anchor="middle" font-weight="bold" fill="#141414" stroke="#141414" stroke-width="0.2" transform="rotate(0.04 619.3 625.65)">b</text>
<text x="619.75" y="682.1" font-size="14.4" text-anchor="middle" font-weight="normal" fill="#222222" letter-spacing="0.35" style="font-kerning:none" stroke="#222222" stroke-width="0.15" transform="rotate(0.04 619.75 682.1)">3d</text>
<rect x="639.8" y="648" width="20.6" height="16.25" fill="#9f9fa3" stroke="#262626" stroke-width="1.35" stroke-linejoin="round"/>
<line x1="650.1" y1="648" x2="650.1" y2="647.4" stroke="#262626" stroke-width="1.35"/>
<line x1="644.9" y1="647.4" x2="655.3" y2="647.4" stroke="#262626" stroke-width="1.3"/>
<line x1="650.1" y1="664.25" x2="650.1" y2="660.05" stroke="#262626" stroke-width="1.1"/>
<text x="649.8" y="644" font-size="14" text-anchor="middle" font-weight="bold" fill="#141414" stroke="#141414" stroke-width="0.2" transform="rotate(0.04 649.8 644)">c</text>
<text x="650.05" y="682.1" font-size="14.4" text-anchor="middle" font-weight="normal" fill="#222222" letter-spacing="0.35" style="font-kerning:none" stroke="#222222" stroke-width="0.15" transform="rotate(0.04 650.05 682.1)">5d</text>
<rect x="670.3" y="642.75" width="20.6" height="21.5" fill="#9f9fa3" stroke="#262626" stroke-width="1.35" stroke-linejoin="round"/>
<line x1="680.6" y1="642.75" x2="680.6" y2="640.75" stroke="#262626" stroke-width="1.35"/>
<line x1="675.4" y1="640.75" x2="685.8" y2="640.75" stroke="#262626" stroke-width="1.3"/>
<line x1="680.6" y1="664.25" x2="680.6" y2="660.05" stroke="#262626" stroke-width="1.1"/>
<text x="680.3" y="638.15" font-size="14" text-anchor="middle" font-weight="bold" fill="#141414" stroke="#141414" stroke-width="0.2" transform="rotate(0.04 680.3 638.15)">bc</text>
<text x="680.55" y="682.1" font-size="14.4" text-anchor="middle" font-weight="normal" fill="#222222" letter-spacing="0.35" style="font-kerning:none" stroke="#222222" stroke-width="0.15" transform="rotate(0.04 680.55 682.1)">7d</text>
<rect x="700.8" y="650.75" width="20.6" height="13.5" fill="#9f9fa3" stroke="#262626" stroke-width="1.35" stroke-linejoin="round"/>
<line x1="711.1" y1="650.75" x2="711.1" y2="647.25" stroke="#262626" stroke-width="1.35"/>
<line x1="705.9" y1="647.25" x2="716.3" y2="647.25" stroke="#262626" stroke-width="1.3"/>
<line x1="711.1" y1="664.25" x2="711.1" y2="660.05" stroke="#262626" stroke-width="1.1"/>
<text x="710.8" y="644.65" font-size="14" text-anchor="middle" font-weight="bold" fill="#141414" stroke="#141414" stroke-width="0.2" transform="rotate(0.04 710.8 644.65)">c</text>
<text x="711.15" y="682.1" font-size="14.4" text-anchor="middle" font-weight="normal" fill="#222222" letter-spacing="0.35" style="font-kerning:none" stroke="#222222" stroke-width="0.15" transform="rotate(0.04 711.15 682.1)">9d</text>
<rect x="731.3" y="639.75" width="20.6" height="24.5" fill="#9f9fa3" stroke="#262626" stroke-width="1.35" stroke-linejoin="round"/>
<line x1="741.6" y1="639.75" x2="741.6" y2="632.75" stroke="#262626" stroke-width="1.35"/>
<line x1="736.4" y1="632.75" x2="746.8" y2="632.75" stroke="#262626" stroke-width="1.3"/>
<line x1="741.6" y1="664.25" x2="741.6" y2="660.05" stroke="#262626" stroke-width="1.1"/>
<text x="741.3" y="630.15" font-size="14" text-anchor="middle" font-weight="bold" fill="#141414" stroke="#141414" stroke-width="0.2" transform="rotate(0.04 741.3 630.15)">bc</text>
<text x="743.15" y="682.1" font-size="14.4" text-anchor="middle" font-weight="normal" fill="#222222" letter-spacing="0.35" style="font-kerning:none" stroke="#222222" stroke-width="0.15" transform="rotate(0.04 743.15 682.1)">RW</text>
<rect x="781.95" y="547.75" width="20.6" height="116.5" fill="#9f9fa3" stroke="#262626" stroke-width="1.35" stroke-linejoin="round"/>
<line x1="792.25" y1="547.75" x2="792.25" y2="524.25" stroke="#262626" stroke-width="1.35"/>
<line x1="787.05" y1="524.25" x2="797.45" y2="524.25" stroke="#262626" stroke-width="1.3"/>
<line x1="792.25" y1="664.25" x2="792.25" y2="660.05" stroke="#262626" stroke-width="1.1"/>
<text x="791.95" y="521.65" font-size="14" text-anchor="middle" font-weight="bold" fill="#141414" stroke="#141414" stroke-width="0.2" transform="rotate(0.04 791.95 521.65)">a</text>
<text x="793.05" y="682.1" font-size="14.4" text-anchor="middle" font-weight="normal" fill="#222222" letter-spacing="0.35" style="font-kerning:none" stroke="#222222" stroke-width="0.15" transform="rotate(0.04 793.05 682.1)">0h</text>
<rect x="812.42" y="580.75" width="20.6" height="83.5" fill="#9f9fa3" stroke="#262626" stroke-width="1.35" stroke-linejoin="round"/>
<line x1="822.72" y1="580.75" x2="822.72" y2="572.25" stroke="#262626" stroke-width="1.35"/>
<line x1="817.52" y1="572.25" x2="827.92" y2="572.25" stroke="#262626" stroke-width="1.3"/>
<line x1="822.72" y1="664.25" x2="822.72" y2="660.05" stroke="#262626" stroke-width="1.1"/>
<text x="822.42" y="569.65" font-size="14" text-anchor="middle" font-weight="bold" fill="#141414" stroke="#141414" stroke-width="0.2" transform="rotate(0.04 822.42 569.65)">b</text>
<text x="824.5" y="682.1" font-size="14.4" text-anchor="middle" font-weight="normal" fill="#222222" letter-spacing="0.35" style="font-kerning:none" stroke="#222222" stroke-width="0.15" transform="rotate(0.04 824.5 682.1)">1h</text>
<rect x="842.89" y="569" width="20.6" height="95.25" fill="#9f9fa3" stroke="#262626" stroke-width="1.35" stroke-linejoin="round"/>
<line x1="853.19" y1="569" x2="853.19" y2="563.5" stroke="#262626" stroke-width="1.35"/>
<line x1="847.99" y1="563.5" x2="858.39" y2="563.5" stroke="#262626" stroke-width="1.3"/>
<line x1="853.19" y1="664.25" x2="853.19" y2="660.05" stroke="#262626" stroke-width="1.1"/>
<text x="852.89" y="560.9" font-size="14" text-anchor="middle" font-weight="bold" fill="#141414" stroke="#141414" stroke-width="0.2" transform="rotate(0.04 852.89 560.9)">b</text>
<text x="852.9" y="682.1" font-size="14.4" text-anchor="middle" font-weight="normal" fill="#222222" letter-spacing="0.35" style="font-kerning:none" stroke="#222222" stroke-width="0.15" transform="rotate(0.04 852.9 682.1)">3h</text>
<rect x="873.36" y="647" width="20.6" height="17.25" fill="#9f9fa3" stroke="#262626" stroke-width="1.35" stroke-linejoin="round"/>
<line x1="883.66" y1="647" x2="883.66" y2="644" stroke="#262626" stroke-width="1.35"/>
<line x1="878.46" y1="644" x2="888.86" y2="644" stroke="#262626" stroke-width="1.3"/>
<line x1="883.66" y1="664.25" x2="883.66" y2="660.05" stroke="#262626" stroke-width="1.1"/>
<text x="883.36" y="641.4" font-size="14" text-anchor="middle" font-weight="bold" fill="#141414" stroke="#141414" stroke-width="0.2" transform="rotate(0.04 883.36 641.4)">c</text>
<text x="883.55" y="682.1" font-size="14.4" text-anchor="middle" font-weight="normal" fill="#222222" letter-spacing="0.35" style="font-kerning:none" stroke="#222222" stroke-width="0.15" transform="rotate(0.04 883.55 682.1)">6h</text>
<rect x="903.83" y="651" width="20.6" height="13.25" fill="#9f9fa3" stroke="#262626" stroke-width="1.35" stroke-linejoin="round"/>
<line x1="914.13" y1="651" x2="914.13" y2="650.25" stroke="#262626" stroke-width="1.35"/>
<line x1="908.93" y1="650.25" x2="919.33" y2="650.25" stroke="#262626" stroke-width="1.3"/>
<line x1="914.13" y1="664.25" x2="914.13" y2="660.05" stroke="#262626" stroke-width="1.1"/>
<text x="913.83" y="646.85" font-size="14" text-anchor="middle" font-weight="bold" fill="#141414" stroke="#141414" stroke-width="0.2" transform="rotate(0.04 913.83 646.85)">c</text>
<text x="915.65" y="682.1" font-size="14.4" text-anchor="middle" font-weight="normal" fill="#222222" letter-spacing="0.35" style="font-kerning:none" stroke="#222222" stroke-width="0.15" transform="rotate(0.04 915.65 682.1)">12h</text>
<rect x="934.3" y="638.75" width="20.6" height="25.5" fill="#9f9fa3" stroke="#262626" stroke-width="1.35" stroke-linejoin="round"/>
<line x1="944.6" y1="638.75" x2="944.6" y2="634.5" stroke="#262626" stroke-width="1.35"/>
<line x1="939.4" y1="634.5" x2="949.8" y2="634.5" stroke="#262626" stroke-width="1.3"/>
<line x1="944.6" y1="664.25" x2="944.6" y2="660.05" stroke="#262626" stroke-width="1.1"/>
<text x="944.3" y="631.9" font-size="14" text-anchor="middle" font-weight="bold" fill="#141414" stroke="#141414" stroke-width="0.2" transform="rotate(0.04 944.3 631.9)">c</text>
<text x="946.05" y="682.1" font-size="14.4" text-anchor="middle" font-weight="normal" fill="#222222" letter-spacing="0.35" style="font-kerning:none" stroke="#222222" stroke-width="0.15" transform="rotate(0.04 946.05 682.1)">24h</text>
<rect x="964.77" y="645.75" width="20.6" height="18.5" fill="#9f9fa3" stroke="#262626" stroke-width="1.35" stroke-linejoin="round"/>
<line x1="975.07" y1="645.75" x2="975.07" y2="645.4" stroke="#262626" stroke-width="1.35"/>
<line x1="969.87" y1="645.4" x2="980.27" y2="645.4" stroke="#262626" stroke-width="1.3"/>
<line x1="975.07" y1="664.25" x2="975.07" y2="660.05" stroke="#262626" stroke-width="1.1"/>
<text x="974.77" y="642" font-size="14" text-anchor="middle" font-weight="bold" fill="#141414" stroke="#141414" stroke-width="0.2" transform="rotate(0.04 974.77 642)">c</text>
<text x="975.95" y="682.1" font-size="14.4" text-anchor="middle" font-weight="normal" fill="#222222" letter-spacing="0.35" style="font-kerning:none" stroke="#222222" stroke-width="0.15" transform="rotate(0.04 975.95 682.1)">48h</text>
<path d="M65.75 377.75H1001.2V664.25H65.75" fill="none" stroke="#262626" stroke-width="1.25"/>
<line x1="65.75" y1="377.15" x2="65.75" y2="664.85" stroke="#262626" stroke-width="1.25"/>
<text x="62.55" y="381.75" font-size="16" text-anchor="end" font-weight="normal" fill="#222222" transform="rotate(0.04 62.55 381.75)">2.5</text>
<text x="62.55" y="439.25" font-size="16" text-anchor="end" font-weight="normal" fill="#222222" transform="rotate(0.04 62.55 439.25)">2.0</text>
<line x1="65.75" y1="435.25" x2="73.95" y2="435.25" stroke="#262626" stroke-width="1.2"/>
<text x="62.55" y="496.5" font-size="16" text-anchor="end" font-weight="normal" fill="#222222" transform="rotate(0.04 62.55 496.5)">1.5</text>
<line x1="65.75" y1="492.5" x2="73.95" y2="492.5" stroke="#262626" stroke-width="1.2"/>
<text x="62.55" y="553.5" font-size="16" text-anchor="end" font-weight="normal" fill="#222222" transform="rotate(0.04 62.55 553.5)">1.0</text>
<line x1="65.75" y1="549.5" x2="73.95" y2="549.5" stroke="#262626" stroke-width="1.2"/>
<text x="62.55" y="610.75" font-size="16" text-anchor="end" font-weight="normal" fill="#222222" transform="rotate(0.04 62.55 610.75)">0.5</text>
<line x1="65.75" y1="606.75" x2="73.95" y2="606.75" stroke="#262626" stroke-width="1.2"/>
<text x="62.55" y="668.25" font-size="16" text-anchor="end" font-weight="normal" fill="#222222" transform="rotate(0.04 62.55 668.25)">0.0</text>
<text x="15" y="384" font-size="20" text-anchor="start" font-weight="normal" fill="#222222" transform="rotate(0.04 15 384)">B</text>
<text x="0" y="0" font-size="21.7" text-anchor="middle" font-weight="normal" fill="#222222" transform="translate(33.8 523.5) rotate(-90) scale(0.94 1)">Relative expression</text>
<line x1="77.5" y1="695.4" x2="283.75" y2="695.4" stroke="#1e1e1e" stroke-width="1.4"/>
<text x="186.7" y="721.8" font-size="16.5" text-anchor="middle" font-weight="bold" fill="#0a0a0a" letter-spacing="0.5" stroke="#0a0a0a" stroke-width="0.25" transform="rotate(0.04 186.7 721.8)">NaCl</text>
<line x1="313.25" y1="695.4" x2="520" y2="695.4" stroke="#1e1e1e" stroke-width="1.4"/>
<text x="422.7" y="721.8" font-size="16.5" text-anchor="middle" font-weight="bold" fill="#0a0a0a" letter-spacing="0.5" stroke="#0a0a0a" stroke-width="0.25" transform="rotate(0.04 422.7 721.8)">Cold</text>
<line x1="548.75" y1="695.4" x2="756.25" y2="695.4" stroke="#1e1e1e" stroke-width="1.4"/>
<text x="665.2" y="721.8" font-size="16.5" text-anchor="middle" font-weight="bold" fill="#0a0a0a" letter-spacing="0.5" stroke="#0a0a0a" stroke-width="0.25" transform="rotate(0.04 665.2 721.8)">Drought</text>
<line x1="782.5" y1="695.4" x2="989.5" y2="695.4" stroke="#1e1e1e" stroke-width="1.4"/>
<text x="897.1" y="721.8" font-size="16.5" text-anchor="middle" font-weight="bold" fill="#0a0a0a" letter-spacing="0.5" stroke="#0a0a0a" stroke-width="0.25" transform="rotate(0.04 897.1 721.8)">ABA</text>
</g>
<g>
<rect x="77.45" y="989.25" width="20.6" height="36" fill="#9f9fa3" stroke="#262626" stroke-width="1.35" stroke-linejoin="round"/>
<line x1="87.75" y1="989.25" x2="87.75" y2="982.5" stroke="#262626" stroke-width="1.35"/>
<line x1="82.55" y1="982.5" x2="92.95" y2="982.5" stroke="#262626" stroke-width="1.3"/>
<line x1="87.75" y1="1025.25" x2="87.75" y2="1021.05" stroke="#262626" stroke-width="1.1"/>
<text x="87.45" y="979.9" font-size="14" text-anchor="middle" font-weight="bold" fill="#141414" stroke="#141414" stroke-width="0.2" transform="rotate(0.04 87.45 979.9)">bc</text>
<text x="88.15" y="1043.1" font-size="14.4" text-anchor="middle" font-weight="normal" fill="#222222" letter-spacing="0.35" style="font-kerning:none" stroke="#222222" stroke-width="0.15" transform="rotate(0.04 88.15 1043.1)">0h</text>
<rect x="108.03" y="976.25" width="20.6" height="49" fill="#9f9fa3" stroke="#262626" stroke-width="1.35" stroke-linejoin="round"/>
<line x1="118.33" y1="976.25" x2="118.33" y2="963.5" stroke="#262626" stroke-width="1.35"/>
<line x1="113.13" y1="963.5" x2="123.53" y2="963.5" stroke="#262626" stroke-width="1.3"/>
<line x1="118.33" y1="1025.25" x2="118.33" y2="1021.05" stroke="#262626" stroke-width="1.1"/>
<text x="118.03" y="960.9" font-size="14" text-anchor="middle" font-weight="bold" fill="#141414" stroke="#141414" stroke-width="0.2" transform="rotate(0.04 118.03 960.9)">b</text>
<text x="118.75" y="1043.1" font-size="14.4" text-anchor="middle" font-weight="normal" fill="#222222" letter-spacing="0.35" style="font-kerning:none" stroke="#222222" stroke-width="0.15" transform="rotate(0.04 118.75 1043.1)">1h</text>
<rect x="138.61" y="806.25" width="20.6" height="219" fill="#9f9fa3" stroke="#262626" stroke-width="1.35" stroke-linejoin="round"/>
<line x1="148.91" y1="806.25" x2="148.91" y2="767.5" stroke="#262626" stroke-width="1.35"/>
<line x1="143.71" y1="767.5" x2="154.11" y2="767.5" stroke="#262626" stroke-width="1.3"/>
<line x1="148.91" y1="1025.25" x2="148.91" y2="1021.05" stroke="#262626" stroke-width="1.1"/>
<text x="148.61" y="764.9" font-size="14" text-anchor="middle" font-weight="bold" fill="#141414" stroke="#141414" stroke-width="0.2" transform="rotate(0.04 148.61 764.9)">a</text>
<text x="149.65" y="1043.1" font-size="14.4" text-anchor="middle" font-weight="normal" fill="#222222" letter-spacing="0.35" style="font-kerning:none" stroke="#222222" stroke-width="0.15" transform="rotate(0.04 149.65 1043.1)">3h</text>
<rect x="169.19" y="1000.75" width="20.6" height="24.5" fill="#9f9fa3" stroke="#262626" stroke-width="1.35" stroke-linejoin="round"/>
<line x1="179.49" y1="1000.75" x2="179.49" y2="996.5" stroke="#262626" stroke-width="1.35"/>
<line x1="174.29" y1="996.5" x2="184.69" y2="996.5" stroke="#262626" stroke-width="1.3"/>
<line x1="179.49" y1="1025.25" x2="179.49" y2="1021.05" stroke="#262626" stroke-width="1.1"/>
<text x="179.19" y="993.9" font-size="14" text-anchor="middle" font-weight="bold" fill="#141414" stroke="#141414" stroke-width="0.2" transform="rotate(0.04 179.19 993.9)">bc</text>
<text x="180.15" y="1043.1" font-size="14.4" text-anchor="middle" font-weight="normal" fill="#222222" letter-spacing="0.35" style="font-kerning:none" stroke="#222222" stroke-width="0.15" transform="rotate(0.04 180.15 1043.1)">6h</text>
<rect x="199.77" y="984.5" width="20.6" height="40.75" fill="#9f9fa3" stroke="#262626" stroke-width="1.35" stroke-linejoin="round"/>
<line x1="210.07" y1="984.5" x2="210.07" y2="977.75" stroke="#262626" stroke-width="1.35"/>
<line x1="204.87" y1="977.75" x2="215.27" y2="977.75" stroke="#262626" stroke-width="1.3"/>
<line x1="210.07" y1="1025.25" x2="210.07" y2="1021.05" stroke="#262626" stroke-width="1.1"/>
<text x="209.77" y="975.15" font-size="14" text-anchor="middle" font-weight="bold" fill="#141414" stroke="#141414" stroke-width="0.2" transform="rotate(0.04 209.77 975.15)">bc</text>
<text x="209.5" y="1043.1" font-size="14.4" text-anchor="middle" font-weight="normal" fill="#222222" letter-spacing="0.35" style="font-kerning:none" stroke="#222222" stroke-width="0.15" transform="rotate(0.04 209.5 1043.1)">12h</text>
<rect x="230.35" y="1014.25" width="20.6" height="11" fill="#9f9fa3" stroke="#262626" stroke-width="1.35" stroke-linejoin="round"/>
<line x1="240.65" y1="1014.25" x2="240.65" y2="1013.5" stroke="#262626" stroke-width="1.35"/>
<line x1="235.45" y1="1013.5" x2="245.85" y2="1013.5" stroke="#262626" stroke-width="1.3"/>
<line x1="240.65" y1="1025.25" x2="240.65" y2="1021.05" stroke="#262626" stroke-width="1.1"/>
<text x="240.35" y="1010.1" font-size="14" text-anchor="middle" font-weight="bold" fill="#141414" stroke="#141414" stroke-width="0.2" transform="rotate(0.04 240.35 1010.1)">c</text>
<text x="241.05" y="1043.1" font-size="14.4" text-anchor="middle" font-weight="normal" fill="#222222" letter-spacing="0.35" style="font-kerning:none" stroke="#222222" stroke-width="0.15" transform="rotate(0.04 241.05 1043.1)">24h</text>
<rect x="260.93" y="988.75" width="20.6" height="36.5" fill="#9f9fa3" stroke="#262626" stroke-width="1.35" stroke-linejoin="round"/>
<line x1="271.23" y1="988.75" x2="271.23" y2="985.25" stroke="#262626" stroke-width="1.35"/>
<line x1="266.03" y1="985.25" x2="276.43" y2="985.25" stroke="#262626" stroke-width="1.3"/>
<line x1="271.23" y1="1025.25" x2="271.23" y2="1021.05" stroke="#262626" stroke-width="1.1"/>
<text x="270.93" y="982.65" font-size="14" text-anchor="middle" font-weight="bold" fill="#141414" stroke="#141414" stroke-width="0.2" transform="rotate(0.04 270.93 982.65)">bc</text>
<text x="271.2" y="1043.1" font-size="14.4" text-anchor="middle" font-weight="normal" fill="#222222" letter-spacing="0.35" style="font-kerning:none" stroke="#222222" stroke-width="0.15" transform="rotate(0.04 271.2 1043.1)">48h</text>
<rect x="311.8" y="989.25" width="20.6" height="36" fill="#9f9fa3" stroke="#262626" stroke-width="1.35" stroke-linejoin="round"/>
<line x1="322.1" y1="989.25" x2="322.1" y2="982.75" stroke="#262626" stroke-width="1.35"/>
<line x1="316.9" y1="982.75" x2="327.3" y2="982.75" stroke="#262626" stroke-width="1.3"/>
<line x1="322.1" y1="1025.25" x2="322.1" y2="1021.05" stroke="#262626" stroke-width="1.1"/>
<text x="321.8" y="980.15" font-size="14" text-anchor="middle" font-weight="bold" fill="#141414" stroke="#141414" stroke-width="0.2" transform="rotate(0.04 321.8 980.15)">c</text>
<text x="323.15" y="1043.1" font-size="14.4" text-anchor="middle" font-weight="normal" fill="#222222" letter-spacing="0.35" style="font-kerning:none" stroke="#222222" stroke-width="0.15" transform="rotate(0.04 323.15 1043.1)">0h</text>
<rect x="342.38" y="1018.25" width="20.6" height="7" fill="#9f9fa3" stroke="#262626" stroke-width="1.35" stroke-linejoin="round"/>
<line x1="352.68" y1="1018.25" x2="352.68" y2="1017.5" stroke="#262626" stroke-width="1.35"/>
<line x1="347.48" y1="1017.5" x2="357.88" y2="1017.5" stroke="#262626" stroke-width="1.3"/>
<line x1="352.68" y1="1025.25" x2="352.68" y2="1021.05" stroke="#262626" stroke-width="1.1"/>
<text x="352.38" y="1014.1" font-size="14" text-anchor="middle" font-weight="bold" fill="#141414" stroke="#141414" stroke-width="0.2" transform="rotate(0.04 352.38 1014.1)">d</text>
<text x="354.25" y="1043.1" font-size="14.4" text-anchor="middle" font-weight="normal" fill="#222222" letter-spacing="0.35" style="font-kerning:none" stroke="#222222" stroke-width="0.15" transform="rotate(0.04 354.25 1043.1)">1h</text>
<rect x="372.96" y="884.75" width="20.6" height="140.5" fill="#9f9fa3" stroke="#262626" stroke-width="1.35" stroke-linejoin="round"/>
<line x1="383.26" y1="884.75" x2="383.26" y2="845.5" stroke="#262626" stroke-width="1.35"/>
<line x1="378.06" y1="845.5" x2="388.46" y2="845.5" stroke="#262626" stroke-width="1.3"/>
<line x1="383.26" y1="1025.25" x2="383.26" y2="1021.05" stroke="#262626" stroke-width="1.1"/>
<text x="382.96" y="842.9" font-size="14" text-anchor="middle" font-weight="bold" fill="#141414" stroke="#141414" stroke-width="0.2" transform="rotate(0.04 382.96 842.9)">a</text>
<text x="384.75" y="1043.1" font-size="14.4" text-anchor="middle" font-weight="normal" fill="#222222" letter-spacing="0.35" style="font-kerning:none" stroke="#222222" stroke-width="0.15" transform="rotate(0.04 384.75 1043.1)">3h</text>
<rect x="403.54" y="1021.25" width="20.6" height="4" fill="#9f9fa3" stroke="#262626" stroke-width="1.35" stroke-linejoin="round"/>
<line x1="413.84" y1="1021.25" x2="413.84" y2="1020.6" stroke="#262626" stroke-width="1.35"/>
<line x1="408.64" y1="1020.6" x2="419.04" y2="1020.6" stroke="#262626" stroke-width="1.3"/>
<line x1="413.84" y1="1025.25" x2="413.84" y2="1021.05" stroke="#262626" stroke-width="1.1"/>
<text x="413.54" y="1018.3" font-size="14" text-anchor="middle" font-weight="bold" fill="#141414" stroke="#141414" stroke-width="0.2" transform="rotate(0.04 413.54 1018.3)">d</text>
<text x="415.4" y="1043.1" font-size="14.4" text-anchor="middle" font-weight="normal" fill="#222222" letter-spacing="0.35" style="font-kerning:none" stroke="#222222" stroke-width="0.15" transform="rotate(0.04 415.4 1043.1)">6h</text>
<rect x="434.12" y="1022.25" width="20.6" height="3" fill="#9f9fa3" stroke="#262626" stroke-width="1.35" stroke-linejoin="round"/>
<line x1="444.42" y1="1022.25" x2="444.42" y2="1021.6" stroke="#262626" stroke-width="1.35"/>
<line x1="439.22" y1="1021.6" x2="449.62" y2="1021.6" stroke="#262626" stroke-width="1.3"/>
<line x1="444.42" y1="1025.25" x2="444.42" y2="1021.05" stroke="#262626" stroke-width="1.1"/>
<text x="444.12" y="1018.2" font-size="14" text-anchor="middle" font-weight="bold" fill="#141414" stroke="#141414" stroke-width="0.2" transform="rotate(0.04 444.12 1018.2)">d</text>
<text x="445.15" y="1043.1" font-size="14.4" text-anchor="middle" font-weight="normal" fill="#222222" letter-spacing="0.35" style="font-kerning:none" stroke="#222222" stroke-width="0.15" transform="rotate(0.04 445.15 1043.1)">12h</text>
<rect x="464.7" y="946.25" width="20.6" height="79" fill="#9f9fa3" stroke="#262626" stroke-width="1.35" stroke-linejoin="round"/>
<line x1="475" y1="946.25" x2="475" y2="931.25" stroke="#262626" stroke-width="1.35"/>
<line x1="469.8" y1="931.25" x2="480.2" y2="931.25" stroke="#262626" stroke-width="1.3"/>
<line x1="475" y1="1025.25" x2="475" y2="1021.05" stroke="#262626" stroke-width="1.1"/>
<text x="474.7" y="928.65" font-size="14" text-anchor="middle" font-weight="bold" fill="#141414" stroke="#141414" stroke-width="0.2" transform="rotate(0.04 474.7 928.65)">b</text>
<text x="476.15" y="1043.1" font-size="14.4" text-anchor="middle" font-weight="normal" fill="#222222" letter-spacing="0.35" style="font-kerning:none" stroke="#222222" stroke-width="0.15" transform="rotate(0.04 476.15 1043.1)">24h</text>
<rect x="495.28" y="978.5" width="20.6" height="46.75" fill="#9f9fa3" stroke="#262626" stroke-width="1.35" stroke-linejoin="round"/>
<line x1="505.58" y1="978.5" x2="505.58" y2="969.5" stroke="#262626" stroke-width="1.35"/>
<line x1="500.38" y1="969.5" x2="510.78" y2="969.5" stroke="#262626" stroke-width="1.3"/>
<line x1="505.58" y1="1025.25" x2="505.58" y2="1021.05" stroke="#262626" stroke-width="1.1"/>
<text x="505.28" y="966.9" font-size="14" text-anchor="middle" font-weight="bold" fill="#141414" stroke="#141414" stroke-width="0.2" transform="rotate(0.04 505.28 966.9)">c</text>
<text x="507.7" y="1043.1" font-size="14.4" text-anchor="middle" font-weight="normal" fill="#222222" letter-spacing="0.35" style="font-kerning:none" stroke="#222222" stroke-width="0.15" transform="rotate(0.04 507.7 1043.1)">48h</text>
<rect x="546.6" y="989" width="20.6" height="36.25" fill="#9f9fa3" stroke="#262626" stroke-width="1.35" stroke-linejoin="round"/>
<line x1="556.9" y1="989" x2="556.9" y2="981" stroke="#262626" stroke-width="1.35"/>
<line x1="551.7" y1="981" x2="562.1" y2="981" stroke="#262626" stroke-width="1.3"/>
<line x1="556.9" y1="1025.25" x2="556.9" y2="1021.05" stroke="#262626" stroke-width="1.1"/>
<text x="556.6" y="978.4" font-size="14" text-anchor="middle" font-weight="bold" fill="#141414" stroke="#141414" stroke-width="0.2" transform="rotate(0.04 556.6 978.4)">b</text>
<text x="557.25" y="1043.1" font-size="14.4" text-anchor="middle" font-weight="normal" fill="#222222" letter-spacing="0.35" style="font-kerning:none" stroke="#222222" stroke-width="0.15" transform="rotate(0.04 557.25 1043.1)">0d</text>
<rect x="577.2" y="1014.75" width="20.6" height="10.5" fill="#9f9fa3" stroke="#262626" stroke-width="1.35" stroke-linejoin="round"/>
<line x1="587.5" y1="1014.75" x2="587.5" y2="1012" stroke="#262626" stroke-width="1.35"/>
<line x1="582.3" y1="1012" x2="592.7" y2="1012" stroke="#262626" stroke-width="1.3"/>
<line x1="587.5" y1="1025.25" x2="587.5" y2="1021.05" stroke="#262626" stroke-width="1.1"/>
<text x="587.2" y="1009.4" font-size="14" text-anchor="middle" font-weight="bold" fill="#141414" stroke="#141414" stroke-width="0.2" transform="rotate(0.04 587.2 1009.4)">c</text>
<text x="587.85" y="1043.1" font-size="14.4" text-anchor="middle" font-weight="normal" fill="#222222" letter-spacing="0.35" style="font-kerning:none" stroke="#222222" stroke-width="0.15" transform="rotate(0.04 587.85 1043.1)">1d</text>
<rect x="607.8" y="943.25" width="20.6" height="82" fill="#9f9fa3" stroke="#262626" stroke-width="1.35" stroke-linejoin="round"/>
<line x1="618.1" y1="943.25" x2="618.1" y2="942.75" stroke="#262626" stroke-width="1.35"/>
<line x1="612.9" y1="942.75" x2="623.3" y2="942.75" stroke="#262626" stroke-width="1.3"/>
<line x1="618.1" y1="1025.25" x2="618.1" y2="1021.05" stroke="#262626" stroke-width="1.1"/>
<text x="617.8" y="939.35" font-size="14" text-anchor="middle" font-weight="bold" fill="#141414" stroke="#141414" stroke-width="0.2" transform="rotate(0.04 617.8 939.35)">a</text>
<text x="618.55" y="1043.1" font-size="14.4" text-anchor="middle" font-weight="normal" fill="#222222" letter-spacing="0.35" style="font-kerning:none" stroke="#222222" stroke-width="0.15" transform="rotate(0.04 618.55 1043.1)">3d</text>
<rect x="638.4" y="991.75" width="20.6" height="33.5" fill="#9f9fa3" stroke="#262626" stroke-width="1.35" stroke-linejoin="round"/>
<line x1="648.7" y1="991.75" x2="648.7" y2="987.5" stroke="#262626" stroke-width="1.35"/>
<line x1="643.5" y1="987.5" x2="653.9" y2="987.5" stroke="#262626" stroke-width="1.3"/>
<line x1="648.7" y1="1025.25" x2="648.7" y2="1021.05" stroke="#262626" stroke-width="1.1"/>
<text x="648.4" y="984.9" font-size="14" text-anchor="middle" font-weight="bold" fill="#141414" stroke="#141414" stroke-width="0.2" transform="rotate(0.04 648.4 984.9)">b</text>
<text x="648.9" y="1043.1" font-size="14.4" text-anchor="middle" font-weight="normal" fill="#222222" letter-spacing="0.35" style="font-kerning:none" stroke="#222222" stroke-width="0.15" transform="rotate(0.04 648.9 1043.1)">5d</text>
<rect x="669" y="1002" width="20.6" height="23.25" fill="#9f9fa3" stroke="#262626" stroke-width="1.35" stroke-linejoin="round"/>
<line x1="679.3" y1="1002" x2="679.3" y2="999.25" stroke="#262626" stroke-width="1.35"/>
<line x1="674.1" y1="999.25" x2="684.5" y2="999.25" stroke="#262626" stroke-width="1.3"/>
<line x1="679.3" y1="1025.25" x2="679.3" y2="1021.05" stroke="#262626" stroke-width="1.1"/>
<text x="679" y="996.65" font-size="14" text-anchor="middle" font-weight="bold" fill="#141414" stroke="#141414" stroke-width="0.2" transform="rotate(0.04 679 996.65)">bc</text>
<text x="679.4" y="1043.1" font-size="14.4" text-anchor="middle" font-weight="normal" fill="#222222" letter-spacing="0.35" style="font-kerning:none" stroke="#222222" stroke-width="0.15" transform="rotate(0.04 679.4 1043.1)">7d</text>
<rect x="699.6" y="1013.75" width="20.6" height="11.5" fill="#9f9fa3" stroke="#262626" stroke-width="1.35" stroke-linejoin="round"/>
<line x1="709.9" y1="1013.75" x2="709.9" y2="1012.75" stroke="#262626" stroke-width="1.35"/>
<line x1="704.7" y1="1012.75" x2="715.1" y2="1012.75" stroke="#262626" stroke-width="1.3"/>
<line x1="709.9" y1="1025.25" x2="709.9" y2="1021.05" stroke="#262626" stroke-width="1.1"/>
<text x="709.6" y="1009.35" font-size="14" text-anchor="middle" font-weight="bold" fill="#141414" stroke="#141414" stroke-width="0.2" transform="rotate(0.04 709.6 1009.35)">c</text>
<text x="710.15" y="1043.1" font-size="14.4" text-anchor="middle" font-weight="normal" fill="#222222" letter-spacing="0.35" style="font-kerning:none" stroke="#222222" stroke-width="0.15" transform="rotate(0.04 710.15 1043.1)">9d</text>
<rect x="730.2" y="928.25" width="20.6" height="97" fill="#9f9fa3" stroke="#262626" stroke-width="1.35" stroke-linejoin="round"/>
<line x1="740.5" y1="928.25" x2="740.5" y2="901.75" stroke="#262626" stroke-width="1.35"/>
<line x1="735.3" y1="901.75" x2="745.7" y2="901.75" stroke="#262626" stroke-width="1.3"/>
<line x1="740.5" y1="1025.25" x2="740.5" y2="1021.05" stroke="#262626" stroke-width="1.1"/>
<text x="740.2" y="899.15" font-size="14" text-anchor="middle" font-weight="bold" fill="#141414" stroke="#141414" stroke-width="0.2" transform="rotate(0.04 740.2 899.15)">a</text>
<text x="743.05" y="1043.1" font-size="14.4" text-anchor="middle" font-weight="normal" fill="#222222" letter-spacing="0.35" style="font-kerning:none" stroke="#222222" stroke-width="0.15" transform="rotate(0.04 743.05 1043.1)">RW</text>
<rect x="781.3" y="989.5" width="20.6" height="35.75" fill="#9f9fa3" stroke="#262626" stroke-width="1.35" stroke-linejoin="round"/>
<line x1="791.6" y1="989.5" x2="791.6" y2="985" stroke="#262626" stroke-width="1.35"/>
<line x1="786.4" y1="985" x2="796.8" y2="985" stroke="#262626" stroke-width="1.3"/>
<line x1="791.6" y1="1025.25" x2="791.6" y2="1021.05" stroke="#262626" stroke-width="1.1"/>
<text x="791.3" y="982.4" font-size="14" text-anchor="middle" font-weight="bold" fill="#141414" stroke="#141414" stroke-width="0.2" transform="rotate(0.04 791.3 982.4)">b</text>
<text x="792.9" y="1043.1" font-size="14.4" text-anchor="middle" font-weight="normal" fill="#222222" letter-spacing="0.35" style="font-kerning:none" stroke="#222222" stroke-width="0.15" transform="rotate(0.04 792.9 1043.1)">0h</text>
<rect x="811.87" y="1011.25" width="20.6" height="14" fill="#9f9fa3" stroke="#262626" stroke-width="1.35" stroke-linejoin="round"/>
<line x1="822.17" y1="1011.25" x2="822.17" y2="1008.25" stroke="#262626" stroke-width="1.35"/>
<line x1="816.97" y1="1008.25" x2="827.37" y2="1008.25" stroke="#262626" stroke-width="1.3"/>
<line x1="822.17" y1="1025.25" x2="822.17" y2="1021.05" stroke="#262626" stroke-width="1.1"/>
<text x="821.87" y="1005.65" font-size="14" text-anchor="middle" font-weight="bold" fill="#141414" stroke="#141414" stroke-width="0.2" transform="rotate(0.04 821.87 1005.65)">c</text>
<text x="824.25" y="1043.1" font-size="14.4" text-anchor="middle" font-weight="normal" fill="#222222" letter-spacing="0.35" style="font-kerning:none" stroke="#222222" stroke-width="0.15" transform="rotate(0.04 824.25 1043.1)">1h</text>
<rect x="842.44" y="997.75" width="20.6" height="27.5" fill="#9f9fa3" stroke="#262626" stroke-width="1.35" stroke-linejoin="round"/>
<line x1="852.74" y1="997.75" x2="852.74" y2="993.25" stroke="#262626" stroke-width="1.35"/>
<line x1="847.54" y1="993.25" x2="857.94" y2="993.25" stroke="#262626" stroke-width="1.3"/>
<line x1="852.74" y1="1025.25" x2="852.74" y2="1021.05" stroke="#262626" stroke-width="1.1"/>
<text x="852.44" y="990.65" font-size="14" text-anchor="middle" font-weight="bold" fill="#141414" stroke="#141414" stroke-width="0.2" transform="rotate(0.04 852.44 990.65)">bc</text>
<text x="852.9" y="1043.1" font-size="14.4" text-anchor="middle" font-weight="normal" fill="#222222" letter-spacing="0.35" style="font-kerning:none" stroke="#222222" stroke-width="0.15" transform="rotate(0.04 852.9 1043.1)">3h</text>
<rect x="873.01" y="1013.25" width="20.6" height="12" fill="#9f9fa3" stroke="#262626" stroke-width="1.35" stroke-linejoin="round"/>
<line x1="883.31" y1="1013.25" x2="883.31" y2="1011" stroke="#262626" stroke-width="1.35"/>
<line x1="878.11" y1="1011" x2="888.51" y2="1011" stroke="#262626" stroke-width="1.3"/>
<line x1="883.31" y1="1025.25" x2="883.31" y2="1021.05" stroke="#262626" stroke-width="1.1"/>
<text x="883.01" y="1008.4" font-size="14" text-anchor="middle" font-weight="bold" fill="#141414" stroke="#141414" stroke-width="0.2" transform="rotate(0.04 883.01 1008.4)">c</text>
<text x="883.55" y="1043.1" font-size="14.4" text-anchor="middle" font-weight="normal" fill="#222222" letter-spacing="0.35" style="font-kerning:none" stroke="#222222" stroke-width="0.15" transform="rotate(0.04 883.55 1043.1)">6h</text>
<rect x="903.58" y="991.5" width="20.6" height="33.75" fill="#9f9fa3" stroke="#262626" stroke-width="1.35" stroke-linejoin="round"/>
<line x1="913.88" y1="991.5" x2="913.88" y2="981.25" stroke="#262626" stroke-width="1.35"/>
<line x1="908.68" y1="981.25" x2="919.08" y2="981.25" stroke="#262626" stroke-width="1.3"/>
<line x1="913.88" y1="1025.25" x2="913.88" y2="1021.05" stroke="#262626" stroke-width="1.1"/>
<text x="913.58" y="978.65" font-size="14" text-anchor="middle" font-weight="bold" fill="#141414" stroke="#141414" stroke-width="0.2" transform="rotate(0.04 913.58 978.65)">b</text>
<text x="915.65" y="1043.1" font-size="14.4" text-anchor="middle" font-weight="normal" fill="#222222" letter-spacing="0.35" style="font-kerning:none" stroke="#222222" stroke-width="0.15" transform="rotate(0.04 915.65 1043.1)">12h</text>
<rect x="934.15" y="990" width="20.6" height="35.25" fill="#9f9fa3" stroke="#262626" stroke-width="1.35" stroke-linejoin="round"/>
<line x1="944.45" y1="990" x2="944.45" y2="989.5" stroke="#262626" stroke-width="1.35"/>
<line x1="939.25" y1="989.5" x2="949.65" y2="989.5" stroke="#262626" stroke-width="1.3"/>
<line x1="944.45" y1="1025.25" x2="944.45" y2="1021.05" stroke="#262626" stroke-width="1.1"/>
<text x="944.15" y="986.1" font-size="14" text-anchor="middle" font-weight="bold" fill="#141414" stroke="#141414" stroke-width="0.2" transform="rotate(0.04 944.15 986.1)">b</text>
<text x="946.05" y="1043.1" font-size="14.4" text-anchor="middle" font-weight="normal" fill="#222222" letter-spacing="0.35" style="font-kerning:none" stroke="#222222" stroke-width="0.15" transform="rotate(0.04 946.05 1043.1)">24h</text>
<rect x="964.72" y="921.5" width="20.6" height="103.75" fill="#9f9fa3" stroke="#262626" stroke-width="1.35" stroke-linejoin="round"/>
<line x1="975.02" y1="921.5" x2="975.02" y2="900.5" stroke="#262626" stroke-width="1.35"/>
<line x1="969.82" y1="900.5" x2="980.22" y2="900.5" stroke="#262626" stroke-width="1.3"/>
<line x1="975.02" y1="1025.25" x2="975.02" y2="1021.05" stroke="#262626" stroke-width="1.1"/>
<text x="974.72" y="897.9" font-size="14" text-anchor="middle" font-weight="bold" fill="#141414" stroke="#141414" stroke-width="0.2" transform="rotate(0.04 974.72 897.9)">a</text>
<text x="975.95" y="1043.1" font-size="14.4" text-anchor="middle" font-weight="normal" fill="#222222" letter-spacing="0.35" style="font-kerning:none" stroke="#222222" stroke-width="0.15" transform="rotate(0.04 975.95 1043.1)">48h</text>
<path d="M62.5 739.5H1001.2V1025.25H62.5" fill="none" stroke="#262626" stroke-width="1.25"/>
<line x1="62.5" y1="738.9" x2="62.5" y2="1025.85" stroke="#262626" stroke-width="1.25"/>
<text x="60.2" y="743.5" font-size="16" text-anchor="end" font-weight="normal" fill="#222222" transform="rotate(0.04 60.2 743.5)">8</text>
<text x="60.2" y="814.75" font-size="16" text-anchor="end" font-weight="normal" fill="#222222" transform="rotate(0.04 60.2 814.75)">6</text>
<line x1="62.5" y1="810.75" x2="70.7" y2="810.75" stroke="#262626" stroke-width="1.2"/>
<text x="60.2" y="886.25" font-size="16" text-anchor="end" font-weight="normal" fill="#222222" transform="rotate(0.04 60.2 886.25)">4</text>
<line x1="62.5" y1="882.25" x2="70.7" y2="882.25" stroke="#262626" stroke-width="1.2"/>
<text x="60.2" y="957.75" font-size="16" text-anchor="end" font-weight="normal" fill="#222222" transform="rotate(0.04 60.2 957.75)">2</text>
<line x1="62.5" y1="953.75" x2="70.7" y2="953.75" stroke="#262626" stroke-width="1.2"/>
<text x="60.2" y="1029.25" font-size="16" text-anchor="end" font-weight="normal" fill="#222222" transform="rotate(0.04 60.2 1029.25)">0</text>
<text x="15.3" y="749.6" font-size="20" text-anchor="start" font-weight="normal" fill="#222222" transform="rotate(0.04 15.3 749.6)">C</text>
<text x="0" y="0" font-size="21.7" text-anchor="middle" font-weight="normal" fill="#222222" transform="translate(30.9 884.6) rotate(-90) scale(0.95 1)">Relative expression</text>
<line x1="78.25" y1="1054.35" x2="285" y2="1054.35" stroke="#1e1e1e" stroke-width="1.4"/>
<text x="185.2" y="1080.2" font-size="16.5" text-anchor="middle" font-weight="bold" fill="#0a0a0a" letter-spacing="0.5" stroke="#0a0a0a" stroke-width="0.25" transform="rotate(0.04 185.2 1080.2)">NaCl</text>
<line x1="311.5" y1="1054.35" x2="519.25" y2="1054.35" stroke="#1e1e1e" stroke-width="1.4"/>
<text x="415.7" y="1080.2" font-size="16.5" text-anchor="middle" font-weight="bold" fill="#0a0a0a" letter-spacing="0.5" stroke="#0a0a0a" stroke-width="0.25" transform="rotate(0.04 415.7 1080.2)">Cold</text>
<line x1="547.75" y1="1054.35" x2="755.5" y2="1054.35" stroke="#1e1e1e" stroke-width="1.4"/>
<text x="658.45" y="1080.2" font-size="16.5" text-anchor="middle" font-weight="bold" fill="#0a0a0a" letter-spacing="0.5" stroke="#0a0a0a" stroke-width="0.25" transform="rotate(0.04 658.45 1080.2)">Drought</text>
<line x1="782" y1="1054.35" x2="990" y2="1054.35" stroke="#1e1e1e" stroke-width="1.4"/>
<text x="886.45" y="1080.2" font-size="16.5" text-anchor="middle" font-weight="bold" fill="#0a0a0a" letter-spacing="0.5" stroke="#0a0a0a" stroke-width="0.25" transform="rotate(0.04 886.45 1080.2)">ABA</text>
</g>
<g>
<rect x="80.95" y="1362.25" width="20.6" height="19.5" fill="#9f9fa3" stroke="#262626" stroke-width="1.35" stroke-linejoin="round"/>
<line x1="91.25" y1="1362.25" x2="91.25" y2="1357.25" stroke="#262626" stroke-width="1.35"/>
<line x1="86.05" y1="1357.25" x2="96.45" y2="1357.25" stroke="#262626" stroke-width="1.3"/>
<line x1="91.25" y1="1381.75" x2="91.25" y2="1377.55" stroke="#262626" stroke-width="1.1"/>
<text x="90.95" y="1353.95" font-size="14" text-anchor="middle" font-weight="bold" fill="#141414" stroke="#141414" stroke-width="0.2" transform="rotate(0.04 90.95 1353.95)">a</text>
<text x="90.25" y="1400.6" font-size="14.4" text-anchor="middle" font-weight="normal" fill="#222222" letter-spacing="0.35" style="font-kerning:none" stroke="#222222" stroke-width="0.15" transform="rotate(0.04 90.25 1400.6)">0h</text>
<rect x="111.45" y="1374" width="20.6" height="7.75" fill="#9f9fa3" stroke="#262626" stroke-width="1.35" stroke-linejoin="round"/>
<line x1="121.75" y1="1374" x2="121.75" y2="1372.25" stroke="#262626" stroke-width="1.35"/>
<line x1="116.55" y1="1372.25" x2="126.95" y2="1372.25" stroke="#262626" stroke-width="1.3"/>
<line x1="121.75" y1="1381.75" x2="121.75" y2="1377.55" stroke="#262626" stroke-width="1.1"/>
<text x="121.45" y="1369.65" font-size="14" text-anchor="middle" font-weight="bold" fill="#141414" stroke="#141414" stroke-width="0.2" transform="rotate(0.04 121.45 1369.65)">b</text>
<text x="121" y="1400.6" font-size="14.4" text-anchor="middle" font-weight="normal" fill="#222222" letter-spacing="0.35" style="font-kerning:none" stroke="#222222" stroke-width="0.15" transform="rotate(0.04 121 1400.6)">1h</text>
<rect x="141.95" y="1361.25" width="20.6" height="20.5" fill="#9f9fa3" stroke="#262626" stroke-width="1.35" stroke-linejoin="round"/>
<line x1="152.25" y1="1361.25" x2="152.25" y2="1360.75" stroke="#262626" stroke-width="1.35"/>
<line x1="147.05" y1="1360.75" x2="157.45" y2="1360.75" stroke="#262626" stroke-width="1.3"/>
<line x1="152.25" y1="1381.75" x2="152.25" y2="1377.55" stroke="#262626" stroke-width="1.1"/>
<text x="151.95" y="1358.65" font-size="14" text-anchor="middle" font-weight="bold" fill="#141414" stroke="#141414" stroke-width="0.2" transform="rotate(0.04 151.95 1358.65)">a</text>
<text x="152.25" y="1400.6" font-size="14.4" text-anchor="middle" font-weight="normal" fill="#222222" letter-spacing="0.35" style="font-kerning:none" stroke="#222222" stroke-width="0.15" transform="rotate(0.04 152.25 1400.6)">3h</text>
<rect x="172.45" y="1373" width="20.6" height="8.75" fill="#9f9fa3" stroke="#262626" stroke-width="1.35" stroke-linejoin="round"/>
<line x1="182.75" y1="1373" x2="182.75" y2="1372.5" stroke="#262626" stroke-width="1.35"/>
<line x1="177.55" y1="1372.5" x2="187.95" y2="1372.5" stroke="#262626" stroke-width="1.3"/>
<line x1="182.75" y1="1381.75" x2="182.75" y2="1377.55" stroke="#262626" stroke-width="1.1"/>
<text x="182.45" y="1369.1" font-size="14" text-anchor="middle" font-weight="bold" fill="#141414" stroke="#141414" stroke-width="0.2" transform="rotate(0.04 182.45 1369.1)">b</text>
<text x="183.05" y="1400.6" font-size="14.4" text-anchor="middle" font-weight="normal" fill="#222222" letter-spacing="0.35" style="font-kerning:none" stroke="#222222" stroke-width="0.15" transform="rotate(0.04 183.05 1400.6)">6h</text>
<rect x="202.95" y="1378.5" width="20.6" height="3.25" fill="#9f9fa3" stroke="#262626" stroke-width="1.35" stroke-linejoin="round"/>
<line x1="213.25" y1="1378.5" x2="213.25" y2="1378" stroke="#262626" stroke-width="1.35"/>
<line x1="208.05" y1="1378" x2="218.45" y2="1378" stroke="#262626" stroke-width="1.3"/>
<line x1="213.25" y1="1381.75" x2="213.25" y2="1377.55" stroke="#262626" stroke-width="1.1"/>
<text x="212.95" y="1377" font-size="14" text-anchor="middle" font-weight="bold" fill="#141414" stroke="#141414" stroke-width="0.2" transform="rotate(0.04 212.95 1377)">c</text>
<text x="212.85" y="1400.6" font-size="14.4" text-anchor="middle" font-weight="normal" fill="#222222" letter-spacing="0.35" style="font-kerning:none" stroke="#222222" stroke-width="0.15" transform="rotate(0.04 212.85 1400.6)">12h</text>
<rect x="233.45" y="1365.75" width="20.6" height="16" fill="#9f9fa3" stroke="#262626" stroke-width="1.35" stroke-linejoin="round"/>
<line x1="243.75" y1="1365.75" x2="243.75" y2="1364" stroke="#262626" stroke-width="1.35"/>
<line x1="238.55" y1="1364" x2="248.95" y2="1364" stroke="#262626" stroke-width="1.3"/>
<line x1="243.75" y1="1381.75" x2="243.75" y2="1377.55" stroke="#262626" stroke-width="1.1"/>
<text x="243.45" y="1361.4" font-size="14" text-anchor="middle" font-weight="bold" fill="#141414" stroke="#141414" stroke-width="0.2" transform="rotate(0.04 243.45 1361.4)">a</text>
<text x="244.75" y="1400.6" font-size="14.4" text-anchor="middle" font-weight="normal" fill="#222222" letter-spacing="0.35" style="font-kerning:none" stroke="#222222" stroke-width="0.15" transform="rotate(0.04 244.75 1400.6)">24h</text>
<rect x="263.95" y="1362.25" width="20.6" height="19.5" fill="#9f9fa3" stroke="#262626" stroke-width="1.35" stroke-linejoin="round"/>
<line x1="274.25" y1="1362.25" x2="274.25" y2="1359" stroke="#262626" stroke-width="1.35"/>
<line x1="269.05" y1="1359" x2="279.45" y2="1359" stroke="#262626" stroke-width="1.3"/>
<line x1="274.25" y1="1381.75" x2="274.25" y2="1377.55" stroke="#262626" stroke-width="1.1"/>
<text x="273.95" y="1356.4" font-size="14" text-anchor="middle" font-weight="bold" fill="#141414" stroke="#141414" stroke-width="0.2" transform="rotate(0.04 273.95 1356.4)">a</text>
<text x="275.2" y="1400.6" font-size="14.4" text-anchor="middle" font-weight="normal" fill="#222222" letter-spacing="0.35" style="font-kerning:none" stroke="#222222" stroke-width="0.15" transform="rotate(0.04 275.2 1400.6)">48h</text>
<rect x="314.7" y="1362.75" width="20.6" height="19" fill="#9f9fa3" stroke="#262626" stroke-width="1.35" stroke-linejoin="round"/>
<line x1="325" y1="1362.75" x2="325" y2="1361.5" stroke="#262626" stroke-width="1.35"/>
<line x1="319.8" y1="1361.5" x2="330.2" y2="1361.5" stroke="#262626" stroke-width="1.3"/>
<line x1="325" y1="1381.75" x2="325" y2="1377.55" stroke="#262626" stroke-width="1.1"/>
<text x="324.7" y="1358.1" font-size="14" text-anchor="middle" font-weight="bold" fill="#141414" stroke="#141414" stroke-width="0.2" transform="rotate(0.04 324.7 1358.1)">e</text>
<text x="324.4" y="1400.6" font-size="14.4" text-anchor="middle" font-weight="normal" fill="#222222" letter-spacing="0.35" style="font-kerning:none" stroke="#222222" stroke-width="0.15" transform="rotate(0.04 324.4 1400.6)">0h</text>
<rect x="345.2" y="1342.75" width="20.6" height="39" fill="#9f9fa3" stroke="#262626" stroke-width="1.35" stroke-linejoin="round"/>
<line x1="355.5" y1="1342.75" x2="355.5" y2="1336.5" stroke="#262626" stroke-width="1.35"/>
<line x1="350.3" y1="1336.5" x2="360.7" y2="1336.5" stroke="#262626" stroke-width="1.3"/>
<line x1="355.5" y1="1381.75" x2="355.5" y2="1377.55" stroke="#262626" stroke-width="1.1"/>
<text x="355.2" y="1333.9" font-size="14" text-anchor="middle" font-weight="bold" fill="#141414" stroke="#141414" stroke-width="0.2" transform="rotate(0.04 355.2 1333.9)">c</text>
<text x="355.5" y="1400.6" font-size="14.4" text-anchor="middle" font-weight="normal" fill="#222222" letter-spacing="0.35" style="font-kerning:none" stroke="#222222" stroke-width="0.15" transform="rotate(0.04 355.5 1400.6)">1h</text>
<rect x="375.7" y="1313.75" width="20.6" height="68" fill="#9f9fa3" stroke="#262626" stroke-width="1.35" stroke-linejoin="round"/>
<line x1="386" y1="1313.75" x2="386" y2="1311.5" stroke="#262626" stroke-width="1.35"/>
<line x1="380.8" y1="1311.5" x2="391.2" y2="1311.5" stroke="#262626" stroke-width="1.3"/>
<line x1="386" y1="1381.75" x2="386" y2="1377.55" stroke="#262626" stroke-width="1.1"/>
<text x="385.7" y="1308.9" font-size="14" text-anchor="middle" font-weight="bold" fill="#141414" stroke="#141414" stroke-width="0.2" transform="rotate(0.04 385.7 1308.9)">a</text>
<text x="386.05" y="1400.6" font-size="14.4" text-anchor="middle" font-weight="normal" fill="#222222" letter-spacing="0.35" style="font-kerning:none" stroke="#222222" stroke-width="0.15" transform="rotate(0.04 386.05 1400.6)">3h</text>
<rect x="406.2" y="1361.25" width="20.6" height="20.5" fill="#9f9fa3" stroke="#262626" stroke-width="1.35" stroke-linejoin="round"/>
<line x1="416.5" y1="1361.25" x2="416.5" y2="1357.75" stroke="#262626" stroke-width="1.35"/>
<line x1="411.3" y1="1357.75" x2="421.7" y2="1357.75" stroke="#262626" stroke-width="1.3"/>
<line x1="416.5" y1="1381.75" x2="416.5" y2="1377.55" stroke="#262626" stroke-width="1.1"/>
<text x="416.2" y="1355.15" font-size="14" text-anchor="middle" font-weight="bold" fill="#141414" stroke="#141414" stroke-width="0.2" transform="rotate(0.04 416.2 1355.15)">e</text>
<text x="416.4" y="1400.6" font-size="14.4" text-anchor="middle" font-weight="normal" fill="#222222" letter-spacing="0.35" style="font-kerning:none" stroke="#222222" stroke-width="0.15" transform="rotate(0.04 416.4 1400.6)">6h</text>
<rect x="436.7" y="1330.25" width="20.6" height="51.5" fill="#9f9fa3" stroke="#262626" stroke-width="1.35" stroke-linejoin="round"/>
<line x1="447" y1="1330.25" x2="447" y2="1328.75" stroke="#262626" stroke-width="1.35"/>
<line x1="441.8" y1="1328.75" x2="452.2" y2="1328.75" stroke="#262626" stroke-width="1.3"/>
<line x1="447" y1="1381.75" x2="447" y2="1377.55" stroke="#262626" stroke-width="1.1"/>
<text x="446.7" y="1325.35" font-size="14" text-anchor="middle" font-weight="bold" fill="#141414" stroke="#141414" stroke-width="0.2" transform="rotate(0.04 446.7 1325.35)">b</text>
<text x="446" y="1400.6" font-size="14.4" text-anchor="middle" font-weight="normal" fill="#222222" letter-spacing="0.35" style="font-kerning:none" stroke="#222222" stroke-width="0.15" transform="rotate(0.04 446 1400.6)">12h</text>
<rect x="467.2" y="1363.75" width="20.6" height="18" fill="#9f9fa3" stroke="#262626" stroke-width="1.35" stroke-linejoin="round"/>
<line x1="477.5" y1="1363.75" x2="477.5" y2="1360.75" stroke="#262626" stroke-width="1.35"/>
<line x1="472.3" y1="1360.75" x2="482.7" y2="1360.75" stroke="#262626" stroke-width="1.3"/>
<line x1="477.5" y1="1381.75" x2="477.5" y2="1377.55" stroke="#262626" stroke-width="1.1"/>
<text x="477.2" y="1358.15" font-size="14" text-anchor="middle" font-weight="bold" fill="#141414" stroke="#141414" stroke-width="0.2" transform="rotate(0.04 477.2 1358.15)">e</text>
<text x="477.25" y="1400.6" font-size="14.4" text-anchor="middle" font-weight="normal" fill="#222222" letter-spacing="0.35" style="font-kerning:none" stroke="#222222" stroke-width="0.15" transform="rotate(0.04 477.25 1400.6)">24h</text>
<rect x="497.7" y="1355.25" width="20.6" height="26.5" fill="#9f9fa3" stroke="#262626" stroke-width="1.35" stroke-linejoin="round"/>
<line x1="508" y1="1355.25" x2="508" y2="1354.5" stroke="#262626" stroke-width="1.35"/>
<line x1="502.8" y1="1354.5" x2="513.2" y2="1354.5" stroke="#262626" stroke-width="1.3"/>
<line x1="508" y1="1381.75" x2="508" y2="1377.55" stroke="#262626" stroke-width="1.1"/>
<text x="507.7" y="1351.1" font-size="14" text-anchor="middle" font-weight="bold" fill="#141414" stroke="#141414" stroke-width="0.2" transform="rotate(0.04 507.7 1351.1)">d</text>
<text x="507.7" y="1400.6" font-size="14.4" text-anchor="middle" font-weight="normal" fill="#222222" letter-spacing="0.35" style="font-kerning:none" stroke="#222222" stroke-width="0.15" transform="rotate(0.04 507.7 1400.6)">48h</text>
<rect x="548.45" y="1363" width="20.6" height="18.75" fill="#9f9fa3" stroke="#262626" stroke-width="1.35" stroke-linejoin="round"/>
<line x1="558.75" y1="1363" x2="558.75" y2="1362.25" stroke="#262626" stroke-width="1.35"/>
<line x1="553.55" y1="1362.25" x2="563.95" y2="1362.25" stroke="#262626" stroke-width="1.3"/>
<line x1="558.75" y1="1381.75" x2="558.75" y2="1377.55" stroke="#262626" stroke-width="1.1"/>
<text x="558.45" y="1358.85" font-size="14" text-anchor="middle" font-weight="bold" fill="#141414" stroke="#141414" stroke-width="0.2" transform="rotate(0.04 558.45 1358.85)">d</text>
<text x="558.25" y="1400.6" font-size="14.4" text-anchor="middle" font-weight="normal" fill="#222222" letter-spacing="0.35" style="font-kerning:none" stroke="#222222" stroke-width="0.15" transform="rotate(0.04 558.25 1400.6)">0d</text>
<rect x="578.95" y="1368.5" width="20.6" height="13.25" fill="#9f9fa3" stroke="#262626" stroke-width="1.35" stroke-linejoin="round"/>
<line x1="589.25" y1="1368.5" x2="589.25" y2="1366" stroke="#262626" stroke-width="1.35"/>
<line x1="584.05" y1="1366" x2="594.45" y2="1366" stroke="#262626" stroke-width="1.3"/>
<line x1="589.25" y1="1381.75" x2="589.25" y2="1377.55" stroke="#262626" stroke-width="1.1"/>
<text x="588.95" y="1363.4" font-size="14" text-anchor="middle" font-weight="bold" fill="#141414" stroke="#141414" stroke-width="0.2" transform="rotate(0.04 588.95 1363.4)">d</text>
<text x="589" y="1400.6" font-size="14.4" text-anchor="middle" font-weight="normal" fill="#222222" letter-spacing="0.35" style="font-kerning:none" stroke="#222222" stroke-width="0.15" transform="rotate(0.04 589 1400.6)">1d</text>
<rect x="609.45" y="1312.25" width="20.6" height="69.5" fill="#9f9fa3" stroke="#262626" stroke-width="1.35" stroke-linejoin="round"/>
<line x1="619.75" y1="1312.25" x2="619.75" y2="1307.5" stroke="#262626" stroke-width="1.35"/>
<line x1="614.55" y1="1307.5" x2="624.95" y2="1307.5" stroke="#262626" stroke-width="1.3"/>
<line x1="619.75" y1="1381.75" x2="619.75" y2="1377.55" stroke="#262626" stroke-width="1.1"/>
<text x="619.45" y="1304.9" font-size="14" text-anchor="middle" font-weight="bold" fill="#141414" stroke="#141414" stroke-width="0.2" transform="rotate(0.04 619.45 1304.9)">c</text>
<text x="619.4" y="1400.6" font-size="14.4" text-anchor="middle" font-weight="normal" fill="#222222" letter-spacing="0.35" style="font-kerning:none" stroke="#222222" stroke-width="0.15" transform="rotate(0.04 619.4 1400.6)">3d</text>
<rect x="639.95" y="1262.5" width="20.6" height="119.25" fill="#9f9fa3" stroke="#262626" stroke-width="1.35" stroke-linejoin="round"/>
<line x1="650.25" y1="1262.5" x2="650.25" y2="1258.75" stroke="#262626" stroke-width="1.35"/>
<line x1="645.05" y1="1258.75" x2="655.45" y2="1258.75" stroke="#262626" stroke-width="1.3"/>
<line x1="650.25" y1="1381.75" x2="650.25" y2="1377.55" stroke="#262626" stroke-width="1.1"/>
<text x="649.95" y="1256.15" font-size="14" text-anchor="middle" font-weight="bold" fill="#141414" stroke="#141414" stroke-width="0.2" transform="rotate(0.04 649.95 1256.15)">b</text>
<text x="649.65" y="1400.6" font-size="14.4" text-anchor="middle" font-weight="normal" fill="#222222" letter-spacing="0.35" style="font-kerning:none" stroke="#222222" stroke-width="0.15" transform="rotate(0.04 649.65 1400.6)">5d</text>
<rect x="670.45" y="1169.5" width="20.6" height="59.75" fill="#9f9fa3"/>
<rect x="670.45" y="1250.5" width="20.6" height="131.25" fill="#9f9fa3"/>
<path d="M670.45 1229.25V1169.5H691.05V1229.25 M670.45 1250.5V1381.75 M691.05 1250.5V1381.75" fill="none" stroke="#262626" stroke-width="1.35" stroke-linejoin="round"/>
<line x1="680.75" y1="1169.5" x2="680.75" y2="1148.5" stroke="#262626" stroke-width="1.35"/>
<line x1="675.55" y1="1148.5" x2="685.95" y2="1148.5" stroke="#262626" stroke-width="1.3"/>
<line x1="680.75" y1="1381.75" x2="680.75" y2="1377.55" stroke="#262626" stroke-width="1.1"/>
<text x="680.45" y="1145.9" font-size="14" text-anchor="middle" font-weight="bold" fill="#141414" stroke="#141414" stroke-width="0.2" transform="rotate(0.04 680.45 1145.9)">a</text>
<text x="680.15" y="1400.6" font-size="14.4" text-anchor="middle" font-weight="normal" fill="#222222" letter-spacing="0.35" style="font-kerning:none" stroke="#222222" stroke-width="0.15" transform="rotate(0.04 680.15 1400.6)">7d</text>
<rect x="700.95" y="1292.75" width="20.6" height="89" fill="#9f9fa3" stroke="#262626" stroke-width="1.35" stroke-linejoin="round"/>
<line x1="711.25" y1="1292.75" x2="711.25" y2="1288" stroke="#262626" stroke-width="1.35"/>
<line x1="706.05" y1="1288" x2="716.45" y2="1288" stroke="#262626" stroke-width="1.3"/>
<line x1="711.25" y1="1381.75" x2="711.25" y2="1377.55" stroke="#262626" stroke-width="1.1"/>
<text x="710.95" y="1285.4" font-size="14" text-anchor="middle" font-weight="bold" fill="#141414" stroke="#141414" stroke-width="0.2" transform="rotate(0.04 710.95 1285.4)">c</text>
<text x="710.55" y="1400.6" font-size="14.4" text-anchor="middle" font-weight="normal" fill="#222222" letter-spacing="0.35" style="font-kerning:none" stroke="#222222" stroke-width="0.15" transform="rotate(0.04 710.55 1400.6)">9d</text>
<rect x="731.45" y="1296.25" width="20.6" height="85.5" fill="#9f9fa3" stroke="#262626" stroke-width="1.35" stroke-linejoin="round"/>
<line x1="741.75" y1="1296.25" x2="741.75" y2="1288" stroke="#262626" stroke-width="1.35"/>
<line x1="736.55" y1="1288" x2="746.95" y2="1288" stroke="#262626" stroke-width="1.3"/>
<line x1="741.75" y1="1381.75" x2="741.75" y2="1377.55" stroke="#262626" stroke-width="1.1"/>
<text x="741.45" y="1285.4" font-size="14" text-anchor="middle" font-weight="bold" fill="#141414" stroke="#141414" stroke-width="0.2" transform="rotate(0.04 741.45 1285.4)">c</text>
<text x="741.75" y="1400.6" font-size="14.4" text-anchor="middle" font-weight="normal" fill="#222222" letter-spacing="0.35" style="font-kerning:none" stroke="#222222" stroke-width="0.15" transform="rotate(0.04 741.75 1400.6)">RW</text>
<rect x="781.95" y="1363" width="20.6" height="18.75" fill="#9f9fa3" stroke="#262626" stroke-width="1.35" stroke-linejoin="round"/>
<line x1="792.25" y1="1363" x2="792.25" y2="1360.5" stroke="#262626" stroke-width="1.35"/>
<line x1="787.05" y1="1360.5" x2="797.45" y2="1360.5" stroke="#262626" stroke-width="1.3"/>
<line x1="792.25" y1="1381.75" x2="792.25" y2="1377.55" stroke="#262626" stroke-width="1.1"/>
<text x="791.95" y="1357.9" font-size="14" text-anchor="middle" font-weight="bold" fill="#141414" stroke="#141414" stroke-width="0.2" transform="rotate(0.04 791.95 1357.9)">c</text>
<text x="791.75" y="1400.6" font-size="14.4" text-anchor="middle" font-weight="normal" fill="#222222" letter-spacing="0.35" style="font-kerning:none" stroke="#222222" stroke-width="0.15" transform="rotate(0.04 791.75 1400.6)">0h</text>
<rect x="812.45" y="1363" width="20.6" height="18.75" fill="#9f9fa3" stroke="#262626" stroke-width="1.35" stroke-linejoin="round"/>
<line x1="822.75" y1="1363" x2="822.75" y2="1361" stroke="#262626" stroke-width="1.35"/>
<line x1="817.55" y1="1361" x2="827.95" y2="1361" stroke="#262626" stroke-width="1.3"/>
<line x1="822.75" y1="1381.75" x2="822.75" y2="1377.55" stroke="#262626" stroke-width="1.1"/>
<text x="822.45" y="1358.4" font-size="14" text-anchor="middle" font-weight="bold" fill="#141414" stroke="#141414" stroke-width="0.2" transform="rotate(0.04 822.45 1358.4)">c</text>
<text x="822.5" y="1400.6" font-size="14.4" text-anchor="middle" font-weight="normal" fill="#222222" letter-spacing="0.35" style="font-kerning:none" stroke="#222222" stroke-width="0.15" transform="rotate(0.04 822.5 1400.6)">1h</text>
<rect x="842.95" y="1367.25" width="20.6" height="14.5" fill="#9f9fa3" stroke="#262626" stroke-width="1.35" stroke-linejoin="round"/>
<line x1="853.25" y1="1367.25" x2="853.25" y2="1366.75" stroke="#262626" stroke-width="1.35"/>
<line x1="848.05" y1="1366.75" x2="858.45" y2="1366.75" stroke="#262626" stroke-width="1.3"/>
<line x1="853.25" y1="1381.75" x2="853.25" y2="1377.55" stroke="#262626" stroke-width="1.1"/>
<text x="852.95" y="1363.35" font-size="14" text-anchor="middle" font-weight="bold" fill="#141414" stroke="#141414" stroke-width="0.2" transform="rotate(0.04 852.95 1363.35)">cd</text>
<text x="853.05" y="1400.6" font-size="14.4" text-anchor="middle" font-weight="normal" fill="#222222" letter-spacing="0.35" style="font-kerning:none" stroke="#222222" stroke-width="0.15" transform="rotate(0.04 853.05 1400.6)">3h</text>
<rect x="873.45" y="1371.25" width="20.6" height="10.5" fill="#9f9fa3" stroke="#262626" stroke-width="1.35" stroke-linejoin="round"/>
<line x1="883.75" y1="1371.25" x2="883.75" y2="1371" stroke="#262626" stroke-width="1.35"/>
<line x1="878.55" y1="1371" x2="888.95" y2="1371" stroke="#262626" stroke-width="1.3"/>
<line x1="883.75" y1="1381.75" x2="883.75" y2="1377.55" stroke="#262626" stroke-width="1.1"/>
<text x="883.45" y="1367.6" font-size="14" text-anchor="middle" font-weight="bold" fill="#141414" stroke="#141414" stroke-width="0.2" transform="rotate(0.04 883.45 1367.6)">cd</text>
<text x="883.75" y="1400.6" font-size="14.4" text-anchor="middle" font-weight="normal" fill="#222222" letter-spacing="0.35" style="font-kerning:none" stroke="#222222" stroke-width="0.15" transform="rotate(0.04 883.75 1400.6)">6h</text>
<rect x="903.95" y="1377.25" width="20.6" height="4.5" fill="#9f9fa3" stroke="#262626" stroke-width="1.35" stroke-linejoin="round"/>
<line x1="914.25" y1="1377.25" x2="914.25" y2="1376.75" stroke="#262626" stroke-width="1.35"/>
<line x1="909.05" y1="1376.75" x2="919.45" y2="1376.75" stroke="#262626" stroke-width="1.3"/>
<line x1="914.25" y1="1381.75" x2="914.25" y2="1377.55" stroke="#262626" stroke-width="1.1"/>
<text x="913.95" y="1373.35" font-size="14" text-anchor="middle" font-weight="bold" fill="#141414" stroke="#141414" stroke-width="0.2" transform="rotate(0.04 913.95 1373.35)">d</text>
<text x="913.85" y="1400.6" font-size="14.4" text-anchor="middle" font-weight="normal" fill="#222222" letter-spacing="0.35" style="font-kerning:none" stroke="#222222" stroke-width="0.15" transform="rotate(0.04 913.85 1400.6)">12h</text>
<rect x="934.45" y="1331.75" width="20.6" height="50" fill="#9f9fa3" stroke="#262626" stroke-width="1.35" stroke-linejoin="round"/>
<line x1="944.75" y1="1331.75" x2="944.75" y2="1330.75" stroke="#262626" stroke-width="1.35"/>
<line x1="939.55" y1="1330.75" x2="949.95" y2="1330.75" stroke="#262626" stroke-width="1.3"/>
<line x1="944.75" y1="1381.75" x2="944.75" y2="1377.55" stroke="#262626" stroke-width="1.1"/>
<text x="944.45" y="1327.35" font-size="14" text-anchor="middle" font-weight="bold" fill="#141414" stroke="#141414" stroke-width="0.2" transform="rotate(0.04 944.45 1327.35)">b</text>
<text x="944.25" y="1400.6" font-size="14.4" text-anchor="middle" font-weight="normal" fill="#222222" letter-spacing="0.35" style="font-kerning:none" stroke="#222222" stroke-width="0.15" transform="rotate(0.04 944.25 1400.6)">24h</text>
<rect x="964.95" y="1296.5" width="20.6" height="85.25" fill="#9f9fa3" stroke="#262626" stroke-width="1.35" stroke-linejoin="round"/>
<line x1="975.25" y1="1296.5" x2="975.25" y2="1281" stroke="#262626" stroke-width="1.35"/>
<line x1="970.05" y1="1281" x2="980.45" y2="1281" stroke="#262626" stroke-width="1.3"/>
<line x1="975.25" y1="1381.75" x2="975.25" y2="1377.55" stroke="#262626" stroke-width="1.1"/>
<text x="974.95" y="1278.4" font-size="14" text-anchor="middle" font-weight="bold" fill="#141414" stroke="#141414" stroke-width="0.2" transform="rotate(0.04 974.95 1278.4)">a</text>
<text x="975.2" y="1400.6" font-size="14.4" text-anchor="middle" font-weight="normal" fill="#222222" letter-spacing="0.35" style="font-kerning:none" stroke="#222222" stroke-width="0.15" transform="rotate(0.04 975.2 1400.6)">48h</text>
<path d="M66.25 1098.75H1001.2V1381.75H66.25" fill="none" stroke="#262626" stroke-width="1.25"/>
<line x1="66.25" y1="1098.15" x2="66.25" y2="1229.25" stroke="#262626" stroke-width="1.25"/>
<line x1="66.25" y1="1250.5" x2="66.25" y2="1382.35" stroke="#262626" stroke-width="1.25"/>
<line x1="59.25" y1="1229.25" x2="73.85" y2="1229.25" stroke="#262626" stroke-width="1.25"/>
<line x1="59.25" y1="1250.5" x2="73.75" y2="1250.5" stroke="#262626" stroke-width="1.25"/>
<text x="63.25" y="1099.95" font-size="16" text-anchor="end" font-weight="normal" fill="#222222" transform="rotate(0.04 63.25 1099.95)">20</text>
<text x="63.25" y="1126.15" font-size="16" text-anchor="end" font-weight="normal" fill="#222222" transform="rotate(0.04 63.25 1126.15)">18</text>
<line x1="66.25" y1="1124.75" x2="74.45" y2="1124.75" stroke="#262626" stroke-width="1.2"/>
<text x="63.25" y="1152.1" font-size="16" text-anchor="end" font-weight="normal" fill="#222222" transform="rotate(0.04 63.25 1152.1)">16</text>
<line x1="66.25" y1="1150.75" x2="74.45" y2="1150.75" stroke="#262626" stroke-width="1.2"/>
<text x="63.25" y="1178.1" font-size="16" text-anchor="end" font-weight="normal" fill="#222222" transform="rotate(0.04 63.25 1178.1)">14</text>
<line x1="66.25" y1="1176.75" x2="74.45" y2="1176.75" stroke="#262626" stroke-width="1.2"/>
<text x="63.25" y="1204.35" font-size="16" text-anchor="end" font-weight="normal" fill="#222222" transform="rotate(0.04 63.25 1204.35)">12</text>
<line x1="66.25" y1="1203" x2="74.45" y2="1203" stroke="#262626" stroke-width="1.2"/>
<text x="63.25" y="1230.7" font-size="16" text-anchor="end" font-weight="normal" fill="#222222" transform="rotate(0.04 63.25 1230.7)">10</text>
<text x="63.25" y="1273.35" font-size="16" text-anchor="end" font-weight="normal" fill="#222222" transform="rotate(0.04 63.25 1273.35)">6</text>
<line x1="66.25" y1="1269" x2="74.45" y2="1269" stroke="#262626" stroke-width="1.2"/>
<text x="63.25" y="1310.85" font-size="16" text-anchor="end" font-weight="normal" fill="#222222" transform="rotate(0.04 63.25 1310.85)">4</text>
<line x1="66.25" y1="1306.5" x2="74.45" y2="1306.5" stroke="#262626" stroke-width="1.2"/>
<text x="63.25" y="1348.6" font-size="16" text-anchor="end" font-weight="normal" fill="#222222" transform="rotate(0.04 63.25 1348.6)">2</text>
<line x1="66.25" y1="1344.25" x2="74.45" y2="1344.25" stroke="#262626" stroke-width="1.2"/>
<text x="63.25" y="1386.1" font-size="16" text-anchor="end" font-weight="normal" fill="#222222" transform="rotate(0.04 63.25 1386.1)">0</text>
<text x="15.6" y="1107.3" font-size="20" text-anchor="start" font-weight="normal" fill="#222222" transform="rotate(0.04 15.6 1107.3)">D</text>
<text x="0" y="0" font-size="21.7" text-anchor="middle" font-weight="normal" fill="#222222" transform="translate(34.4 1240.2) rotate(-90) scale(0.94 1)">Relative expression</text>
<line x1="76.25" y1="1408.7" x2="286.75" y2="1408.7" stroke="#1e1e1e" stroke-width="1.4"/>
<text x="185.2" y="1434.7" font-size="16.5" text-anchor="middle" font-weight="bold" fill="#0a0a0a" letter-spacing="0.5" stroke="#0a0a0a" stroke-width="0.25" transform="rotate(0.04 185.2 1434.7)">NaCl</text>
<line x1="313" y1="1408.7" x2="523.25" y2="1408.7" stroke="#1e1e1e" stroke-width="1.4"/>
<text x="418.95" y="1434.7" font-size="16.5" text-anchor="middle" font-weight="bold" fill="#0a0a0a" letter-spacing="0.5" stroke="#0a0a0a" stroke-width="0.25" transform="rotate(0.04 418.95 1434.7)">Cold</text>
<line x1="548.75" y1="1408.7" x2="758.75" y2="1408.7" stroke="#1e1e1e" stroke-width="1.4"/>
<text x="658.7" y="1434.7" font-size="16.5" text-anchor="middle" font-weight="bold" fill="#0a0a0a" letter-spacing="0.5" stroke="#0a0a0a" stroke-width="0.25" transform="rotate(0.04 658.7 1434.7)">Drought</text>
<line x1="785" y1="1408.7" x2="995" y2="1408.7" stroke="#1e1e1e" stroke-width="1.4"/>
<text x="890.2" y="1434.7" font-size="16.5" text-anchor="middle" font-weight="bold" fill="#0a0a0a" letter-spacing="0.5" stroke="#0a0a0a" stroke-width="0.25" transform="rotate(0.04 890.2 1434.7)">ABA</text>
</g>
</svg>
</body>
</html>
